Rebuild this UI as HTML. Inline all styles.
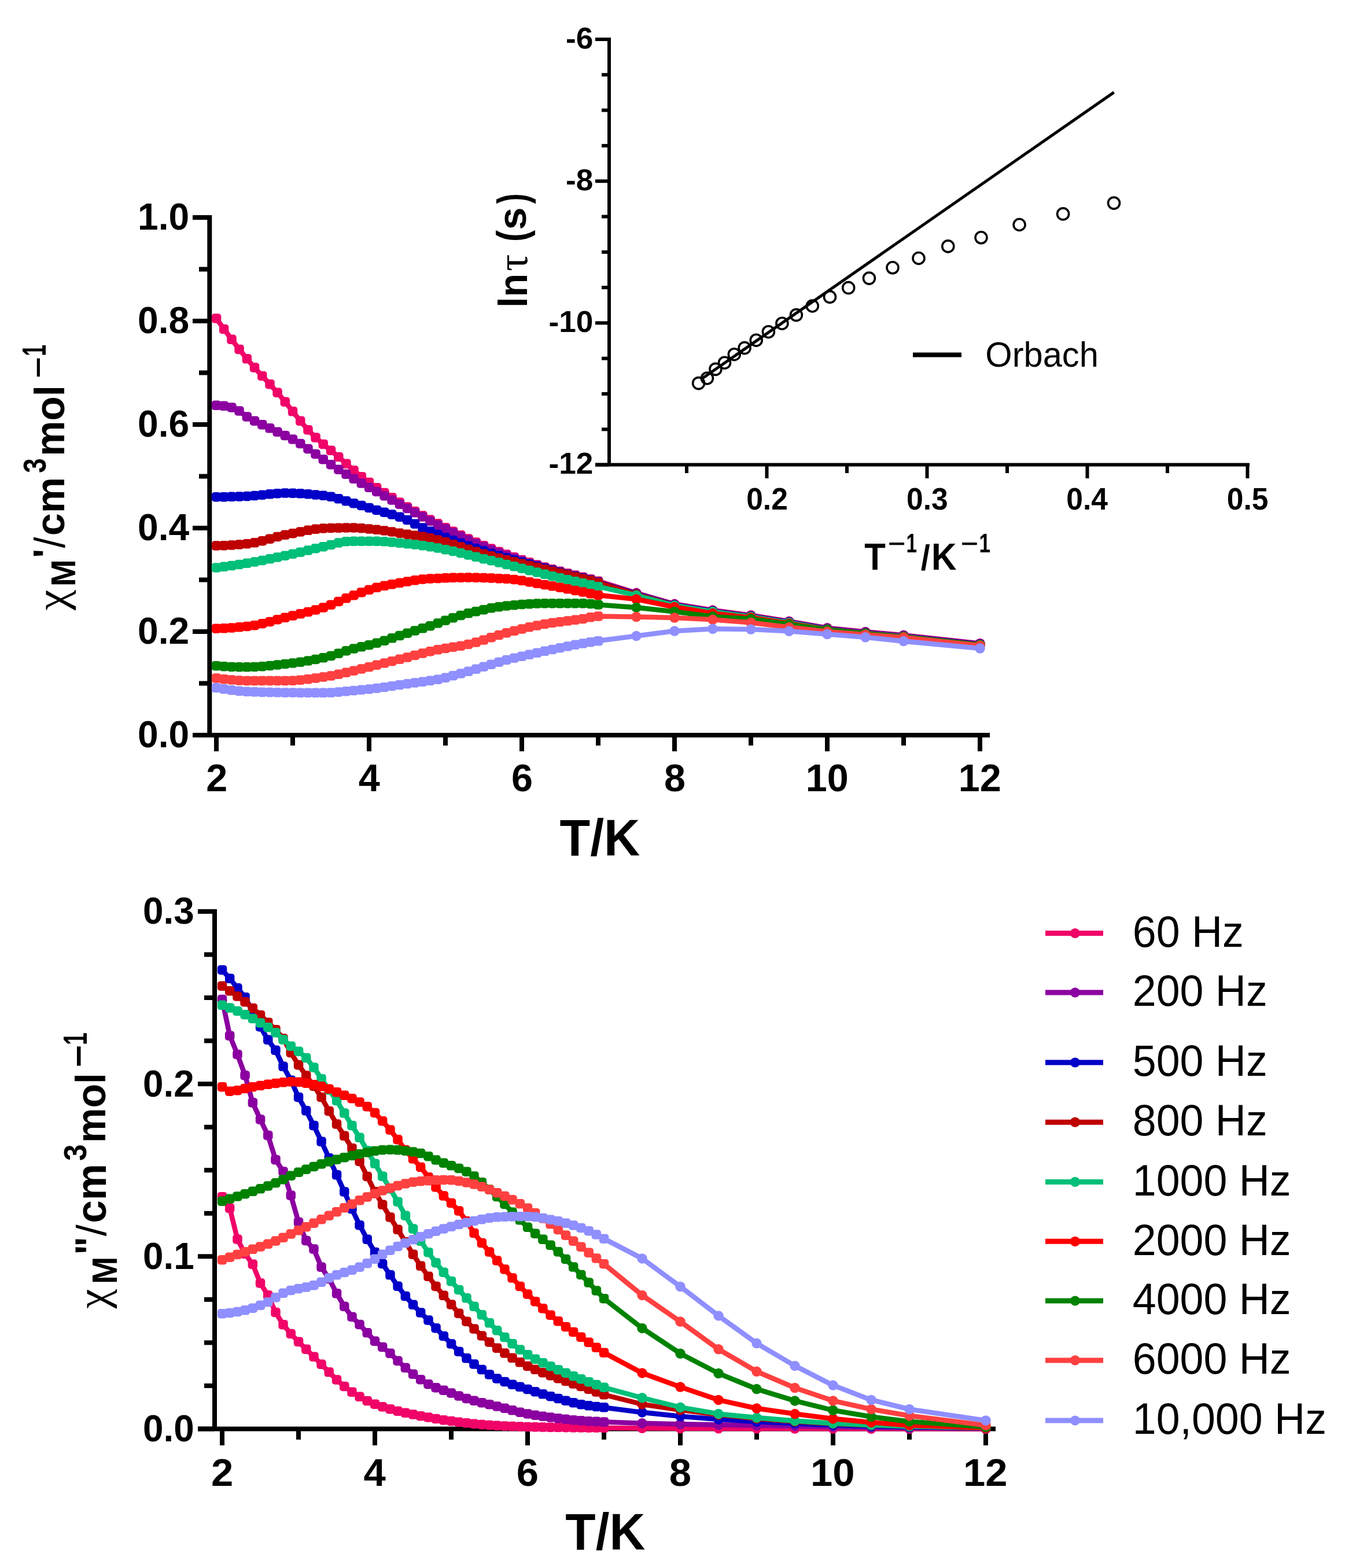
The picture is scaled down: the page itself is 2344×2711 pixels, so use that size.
<!DOCTYPE html><html><head><meta charset="utf-8"><title>AC susceptibility</title><style>html,body{margin:0;padding:0;background:#fff}svg{display:block}text{font-kerning:none}</style></head><body>
<svg width="2344" height="2711" viewBox="0 0 2344 2711">
<rect width="2344" height="2711" fill="#fff"/>
<path d="M362.3 372 V1271 M334 1271 H1711" stroke="#000" stroke-width="8" fill="none" stroke-linecap="butt"/>
<line x1="333" y1="1271.0" x2="362" y2="1271.0" stroke="#000" stroke-width="8" fill="none"/>
<line x1="344" y1="1181.5" x2="362" y2="1181.5" stroke="#000" stroke-width="8" fill="none"/>
<line x1="333" y1="1092.0" x2="362" y2="1092.0" stroke="#000" stroke-width="8" fill="none"/>
<line x1="344" y1="1002.5" x2="362" y2="1002.5" stroke="#000" stroke-width="8" fill="none"/>
<line x1="333" y1="913.0" x2="362" y2="913.0" stroke="#000" stroke-width="8" fill="none"/>
<line x1="344" y1="823.5" x2="362" y2="823.5" stroke="#000" stroke-width="8" fill="none"/>
<line x1="333" y1="734.0" x2="362" y2="734.0" stroke="#000" stroke-width="8" fill="none"/>
<line x1="344" y1="644.5" x2="362" y2="644.5" stroke="#000" stroke-width="8" fill="none"/>
<line x1="333" y1="555.0" x2="362" y2="555.0" stroke="#000" stroke-width="8" fill="none"/>
<line x1="344" y1="465.5" x2="362" y2="465.5" stroke="#000" stroke-width="8" fill="none"/>
<line x1="333" y1="376.0" x2="362" y2="376.0" stroke="#000" stroke-width="8" fill="none"/>
<line x1="374.0" y1="1271" x2="374.0" y2="1299" stroke="#000" stroke-width="8" fill="none"/>
<line x1="506.0" y1="1271" x2="506.0" y2="1289" stroke="#000" stroke-width="8" fill="none"/>
<line x1="638.0" y1="1271" x2="638.0" y2="1299" stroke="#000" stroke-width="8" fill="none"/>
<line x1="770.0" y1="1271" x2="770.0" y2="1289" stroke="#000" stroke-width="8" fill="none"/>
<line x1="902.0" y1="1271" x2="902.0" y2="1299" stroke="#000" stroke-width="8" fill="none"/>
<line x1="1034.0" y1="1271" x2="1034.0" y2="1289" stroke="#000" stroke-width="8" fill="none"/>
<line x1="1166.0" y1="1271" x2="1166.0" y2="1299" stroke="#000" stroke-width="8" fill="none"/>
<line x1="1298.0" y1="1271" x2="1298.0" y2="1289" stroke="#000" stroke-width="8" fill="none"/>
<line x1="1430.0" y1="1271" x2="1430.0" y2="1299" stroke="#000" stroke-width="8" fill="none"/>
<line x1="1562.0" y1="1271" x2="1562.0" y2="1289" stroke="#000" stroke-width="8" fill="none"/>
<line x1="1694.0" y1="1271" x2="1694.0" y2="1299" stroke="#000" stroke-width="8" fill="none"/>
<text transform="translate(237.96 1292.37) scale(0.9873 1)" x="0" y="0" font-family="'Liberation Sans', Arial, sans-serif" font-weight="bold" font-size="64.97">0.0</text>
<text transform="translate(237.96 1113.37) scale(0.9873 1)" x="0" y="0" font-family="'Liberation Sans', Arial, sans-serif" font-weight="bold" font-size="64.97">0.2</text>
<text transform="translate(237.96 934.37) scale(0.9873 1)" x="0" y="0" font-family="'Liberation Sans', Arial, sans-serif" font-weight="bold" font-size="64.97">0.4</text>
<text transform="translate(237.96 755.37) scale(0.9873 1)" x="0" y="0" font-family="'Liberation Sans', Arial, sans-serif" font-weight="bold" font-size="64.97">0.6</text>
<text transform="translate(237.96 576.37) scale(0.9873 1)" x="0" y="0" font-family="'Liberation Sans', Arial, sans-serif" font-weight="bold" font-size="64.97">0.8</text>
<text transform="translate(237.96 397.37) scale(0.9873 1)" x="0" y="0" font-family="'Liberation Sans', Arial, sans-serif" font-weight="bold" font-size="64.97">1.0</text>
<text transform="translate(356.20 1367.50) scale(1.0089 1)" x="0" y="0" font-family="'Liberation Sans', Arial, sans-serif" font-weight="bold" font-size="65.88">2</text>
<text transform="translate(619.69 1367.50) scale(1.0089 1)" x="0" y="0" font-family="'Liberation Sans', Arial, sans-serif" font-weight="bold" font-size="65.88">4</text>
<text transform="translate(884.00 1367.50) scale(1.0089 1)" x="0" y="0" font-family="'Liberation Sans', Arial, sans-serif" font-weight="bold" font-size="65.88">6</text>
<text transform="translate(1147.98 1367.50) scale(1.0089 1)" x="0" y="0" font-family="'Liberation Sans', Arial, sans-serif" font-weight="bold" font-size="65.88">8</text>
<text transform="translate(1392.80 1367.50) scale(1.0089 1)" x="0" y="0" font-family="'Liberation Sans', Arial, sans-serif" font-weight="bold" font-size="65.88">10</text>
<text transform="translate(1656.77 1367.50) scale(1.0089 1)" x="0" y="0" font-family="'Liberation Sans', Arial, sans-serif" font-weight="bold" font-size="65.88">12</text>
<text transform="translate(1037.00 1478.90) scale(1 1.0259)" x="-69.47" y="0" font-family="'Liberation Sans', Arial, sans-serif" font-weight="bold" font-size="86.15">T/K</text>
<path d="M371 1572 V2470.5 M342 2470.5 H1721" stroke="#000" stroke-width="8" fill="none"/>
<line x1="342" y1="2470.5" x2="371" y2="2470.5" stroke="#000" stroke-width="8" fill="none"/>
<line x1="353" y1="2395.9" x2="371" y2="2395.9" stroke="#000" stroke-width="8" fill="none"/>
<line x1="353" y1="2321.4" x2="371" y2="2321.4" stroke="#000" stroke-width="8" fill="none"/>
<line x1="353" y1="2246.8" x2="371" y2="2246.8" stroke="#000" stroke-width="8" fill="none"/>
<line x1="342" y1="2172.3" x2="371" y2="2172.3" stroke="#000" stroke-width="8" fill="none"/>
<line x1="353" y1="2097.8" x2="371" y2="2097.8" stroke="#000" stroke-width="8" fill="none"/>
<line x1="353" y1="2023.2" x2="371" y2="2023.2" stroke="#000" stroke-width="8" fill="none"/>
<line x1="353" y1="1948.7" x2="371" y2="1948.7" stroke="#000" stroke-width="8" fill="none"/>
<line x1="342" y1="1874.1" x2="371" y2="1874.1" stroke="#000" stroke-width="8" fill="none"/>
<line x1="353" y1="1799.5" x2="371" y2="1799.5" stroke="#000" stroke-width="8" fill="none"/>
<line x1="353" y1="1725.0" x2="371" y2="1725.0" stroke="#000" stroke-width="8" fill="none"/>
<line x1="353" y1="1650.4" x2="371" y2="1650.4" stroke="#000" stroke-width="8" fill="none"/>
<line x1="342" y1="1575.9" x2="371" y2="1575.9" stroke="#000" stroke-width="8" fill="none"/>
<line x1="384.0" y1="2470.5" x2="384.0" y2="2499" stroke="#000" stroke-width="8" fill="none"/>
<line x1="516.0" y1="2470.5" x2="516.0" y2="2489" stroke="#000" stroke-width="8" fill="none"/>
<line x1="648.0" y1="2470.5" x2="648.0" y2="2499" stroke="#000" stroke-width="8" fill="none"/>
<line x1="780.0" y1="2470.5" x2="780.0" y2="2489" stroke="#000" stroke-width="8" fill="none"/>
<line x1="912.0" y1="2470.5" x2="912.0" y2="2499" stroke="#000" stroke-width="8" fill="none"/>
<line x1="1044.0" y1="2470.5" x2="1044.0" y2="2489" stroke="#000" stroke-width="8" fill="none"/>
<line x1="1176.0" y1="2470.5" x2="1176.0" y2="2499" stroke="#000" stroke-width="8" fill="none"/>
<line x1="1308.0" y1="2470.5" x2="1308.0" y2="2489" stroke="#000" stroke-width="8" fill="none"/>
<line x1="1440.0" y1="2470.5" x2="1440.0" y2="2499" stroke="#000" stroke-width="8" fill="none"/>
<line x1="1572.0" y1="2470.5" x2="1572.0" y2="2489" stroke="#000" stroke-width="8" fill="none"/>
<line x1="1704.0" y1="2470.5" x2="1704.0" y2="2499" stroke="#000" stroke-width="8" fill="none"/>
<text transform="translate(247.08 2492.06) scale(0.9741 1)" x="0" y="0" font-family="'Liberation Sans', Arial, sans-serif" font-weight="bold" font-size="65.54">0.0</text>
<text transform="translate(247.08 2193.86) scale(0.9741 1)" x="0" y="0" font-family="'Liberation Sans', Arial, sans-serif" font-weight="bold" font-size="65.54">0.1</text>
<text transform="translate(247.08 1895.66) scale(0.9741 1)" x="0" y="0" font-family="'Liberation Sans', Arial, sans-serif" font-weight="bold" font-size="65.54">0.2</text>
<text transform="translate(247.08 1597.46) scale(0.9741 1)" x="0" y="0" font-family="'Liberation Sans', Arial, sans-serif" font-weight="bold" font-size="65.54">0.3</text>
<text transform="translate(365.07 2568.70) scale(1.0171 1)" x="0" y="0" font-family="'Liberation Sans', Arial, sans-serif" font-weight="bold" font-size="67.60">2</text>
<text transform="translate(628.55 2568.70) scale(1.0171 1)" x="0" y="0" font-family="'Liberation Sans', Arial, sans-serif" font-weight="bold" font-size="67.60">4</text>
<text transform="translate(892.87 2568.70) scale(1.0171 1)" x="0" y="0" font-family="'Liberation Sans', Arial, sans-serif" font-weight="bold" font-size="67.60">6</text>
<text transform="translate(1156.85 2568.70) scale(1.0171 1)" x="0" y="0" font-family="'Liberation Sans', Arial, sans-serif" font-weight="bold" font-size="67.60">8</text>
<text transform="translate(1401.01 2568.70) scale(1.0171 1)" x="0" y="0" font-family="'Liberation Sans', Arial, sans-serif" font-weight="bold" font-size="67.60">10</text>
<text transform="translate(1664.97 2568.70) scale(1.0171 1)" x="0" y="0" font-family="'Liberation Sans', Arial, sans-serif" font-weight="bold" font-size="67.60">12</text>
<text transform="translate(1046.40 2679.00) scale(1 1.0353)" x="-69.06" y="0" font-family="'Liberation Sans', Arial, sans-serif" font-weight="bold" font-size="85.64">T/K</text>
<path d="M374.0 550.5 L387.2 569.1 L400.4 586.9 L413.6 604.0 L426.8 620.3 L440.0 635.6 L453.2 650.0 L466.4 664.1 L479.6 678.8 L492.8 694.6 L506.0 711.3 L519.2 727.9 L532.4 743.2 L545.6 756.4 L558.8 768.0 L572.0 778.9 L585.2 790.0 L598.4 801.7 L611.6 813.3 L624.8 824.2 L638.0 834.0 L651.2 843.2 L664.4 852.0 L677.6 860.4 L690.8 868.5 L704.0 876.4 L717.2 884.1 L730.4 891.4 L743.6 898.5 L756.8 905.4 L770.0 912.1 L783.2 918.8 L796.4 925.2 L809.6 931.5 L822.8 937.5 L836.0 943.1 L849.2 948.5 L862.4 953.6 L875.6 958.6 L888.8 963.3 L902.0 967.9 L915.2 972.3 L928.4 976.5 L941.6 980.6 L954.8 984.4 L968.0 987.9 L981.2 991.2 L994.4 994.4 L1007.6 997.7 L1020.8 1001.1 L1034.0 1004.7 L1100.0 1025.3 L1166.0 1044.3 L1232.0 1055.1 L1298.0 1063.8 L1364.0 1074.3 L1430.0 1085.7 L1496.0 1092.4 L1562.0 1098.3 L1694.0 1112.5" fill="none" stroke="#F00468" stroke-width="8.6" stroke-linejoin="round"/>
<g fill="#F00468"><rect x="365.8" y="542.3" width="16.5" height="16.5" rx="5"/><rect x="378.9" y="560.8" width="16.5" height="16.5" rx="5"/><rect x="392.2" y="578.6" width="16.5" height="16.5" rx="5"/><rect x="405.3" y="595.8" width="16.5" height="16.5" rx="5"/><rect x="418.6" y="612.1" width="16.5" height="16.5" rx="5"/><rect x="431.8" y="627.3" width="16.5" height="16.5" rx="5"/><rect x="445.0" y="641.7" width="16.5" height="16.5" rx="5"/><rect x="458.2" y="655.9" width="16.5" height="16.5" rx="5"/><rect x="471.3" y="670.5" width="16.5" height="16.5" rx="5"/><rect x="484.5" y="686.4" width="16.5" height="16.5" rx="5"/><rect x="497.8" y="703.1" width="16.5" height="16.5" rx="5"/><rect x="511.0" y="719.6" width="16.5" height="16.5" rx="5"/><rect x="524.2" y="735.0" width="16.5" height="16.5" rx="5"/><rect x="537.3" y="748.2" width="16.5" height="16.5" rx="5"/><rect x="550.5" y="759.7" width="16.5" height="16.5" rx="5"/><rect x="563.8" y="770.6" width="16.5" height="16.5" rx="5"/><rect x="577.0" y="781.7" width="16.5" height="16.5" rx="5"/><rect x="590.2" y="793.4" width="16.5" height="16.5" rx="5"/><rect x="603.3" y="805.0" width="16.5" height="16.5" rx="5"/><rect x="616.5" y="815.9" width="16.5" height="16.5" rx="5"/><rect x="629.8" y="825.7" width="16.5" height="16.5" rx="5"/><rect x="642.9" y="835.0" width="16.5" height="16.5" rx="5"/><rect x="656.2" y="843.7" width="16.5" height="16.5" rx="5"/><rect x="669.3" y="852.1" width="16.5" height="16.5" rx="5"/><rect x="682.6" y="860.3" width="16.5" height="16.5" rx="5"/><rect x="695.8" y="868.2" width="16.5" height="16.5" rx="5"/><rect x="708.9" y="875.8" width="16.5" height="16.5" rx="5"/><rect x="722.2" y="883.2" width="16.5" height="16.5" rx="5"/><rect x="735.3" y="890.3" width="16.5" height="16.5" rx="5"/><rect x="748.6" y="897.1" width="16.5" height="16.5" rx="5"/><rect x="761.8" y="903.9" width="16.5" height="16.5" rx="5"/><rect x="774.9" y="910.5" width="16.5" height="16.5" rx="5"/><rect x="788.2" y="917.0" width="16.5" height="16.5" rx="5"/><rect x="801.3" y="923.3" width="16.5" height="16.5" rx="5"/><rect x="814.6" y="929.2" width="16.5" height="16.5" rx="5"/><rect x="827.8" y="934.9" width="16.5" height="16.5" rx="5"/><rect x="840.9" y="940.2" width="16.5" height="16.5" rx="5"/><rect x="854.2" y="945.4" width="16.5" height="16.5" rx="5"/><rect x="867.3" y="950.3" width="16.5" height="16.5" rx="5"/><rect x="880.6" y="955.1" width="16.5" height="16.5" rx="5"/><rect x="893.8" y="959.7" width="16.5" height="16.5" rx="5"/><rect x="906.9" y="964.1" width="16.5" height="16.5" rx="5"/><rect x="920.1" y="968.3" width="16.5" height="16.5" rx="5"/><rect x="933.4" y="972.3" width="16.5" height="16.5" rx="5"/><rect x="946.6" y="976.1" width="16.5" height="16.5" rx="5"/><rect x="959.8" y="979.6" width="16.5" height="16.5" rx="5"/><rect x="972.9" y="982.9" width="16.5" height="16.5" rx="5"/><rect x="986.1" y="986.2" width="16.5" height="16.5" rx="5"/><rect x="999.4" y="989.5" width="16.5" height="16.5" rx="5"/><rect x="1012.6" y="992.9" width="16.5" height="16.5" rx="5"/><rect x="1025.8" y="996.5" width="16.5" height="16.5" rx="5"/><circle cx="1100.0" cy="1025.3" r="8.75"/><circle cx="1166.0" cy="1044.3" r="8.75"/><circle cx="1232.0" cy="1055.1" r="8.75"/><circle cx="1298.0" cy="1063.8" r="8.75"/><circle cx="1364.0" cy="1074.3" r="8.75"/><circle cx="1430.0" cy="1085.7" r="8.75"/><circle cx="1496.0" cy="1092.4" r="8.75"/><circle cx="1562.0" cy="1098.3" r="8.75"/><circle cx="1694.0" cy="1112.5" r="8.75"/></g>
<path d="M374.0 700.9 L387.2 701.9 L400.4 704.4 L413.6 710.5 L426.8 720.6 L440.0 727.7 L453.2 734.1 L466.4 740.4 L479.6 746.8 L492.8 753.0 L506.0 759.5 L519.2 766.9 L532.4 775.9 L545.6 785.1 L558.8 794.2 L572.0 803.2 L585.2 811.7 L598.4 819.9 L611.6 827.8 L624.8 835.4 L638.0 842.9 L651.2 850.1 L664.4 857.2 L677.6 864.4 L690.8 871.7 L704.0 878.9 L717.2 886.2 L730.4 893.4 L743.6 900.7 L756.8 907.6 L770.0 914.3 L783.2 921.0 L796.4 927.5 L809.6 933.7 L822.8 939.7 L836.0 945.4 L849.2 950.7 L862.4 955.8 L875.6 960.6 L888.8 965.3 L902.0 969.8 L915.2 974.2 L928.4 978.4 L941.6 982.4 L954.8 986.1 L968.0 989.7 L981.2 993.0 L994.4 996.3 L1007.6 999.6 L1020.8 1003.0 L1034.0 1006.5 L1100.0 1026.2 L1166.0 1045.2 L1232.0 1056.0 L1298.0 1064.7 L1364.0 1075.2 L1430.0 1086.6 L1496.0 1093.3 L1562.0 1099.2 L1694.0 1113.4" fill="none" stroke="#8B00A0" stroke-width="8.6" stroke-linejoin="round"/>
<g fill="#8B00A0"><rect x="365.8" y="692.6" width="16.5" height="16.5" rx="5"/><rect x="378.9" y="693.6" width="16.5" height="16.5" rx="5"/><rect x="392.2" y="696.2" width="16.5" height="16.5" rx="5"/><rect x="405.3" y="702.2" width="16.5" height="16.5" rx="5"/><rect x="418.6" y="712.3" width="16.5" height="16.5" rx="5"/><rect x="431.8" y="719.5" width="16.5" height="16.5" rx="5"/><rect x="445.0" y="725.9" width="16.5" height="16.5" rx="5"/><rect x="458.2" y="732.1" width="16.5" height="16.5" rx="5"/><rect x="471.3" y="738.5" width="16.5" height="16.5" rx="5"/><rect x="484.5" y="744.8" width="16.5" height="16.5" rx="5"/><rect x="497.8" y="751.3" width="16.5" height="16.5" rx="5"/><rect x="511.0" y="758.7" width="16.5" height="16.5" rx="5"/><rect x="524.2" y="767.7" width="16.5" height="16.5" rx="5"/><rect x="537.3" y="776.8" width="16.5" height="16.5" rx="5"/><rect x="550.5" y="785.9" width="16.5" height="16.5" rx="5"/><rect x="563.8" y="794.9" width="16.5" height="16.5" rx="5"/><rect x="577.0" y="803.5" width="16.5" height="16.5" rx="5"/><rect x="590.2" y="811.6" width="16.5" height="16.5" rx="5"/><rect x="603.3" y="819.5" width="16.5" height="16.5" rx="5"/><rect x="616.5" y="827.2" width="16.5" height="16.5" rx="5"/><rect x="629.8" y="834.6" width="16.5" height="16.5" rx="5"/><rect x="642.9" y="841.8" width="16.5" height="16.5" rx="5"/><rect x="656.2" y="849.0" width="16.5" height="16.5" rx="5"/><rect x="669.3" y="856.2" width="16.5" height="16.5" rx="5"/><rect x="682.6" y="863.4" width="16.5" height="16.5" rx="5"/><rect x="695.8" y="870.7" width="16.5" height="16.5" rx="5"/><rect x="708.9" y="877.9" width="16.5" height="16.5" rx="5"/><rect x="722.2" y="885.2" width="16.5" height="16.5" rx="5"/><rect x="735.3" y="892.4" width="16.5" height="16.5" rx="5"/><rect x="748.6" y="899.4" width="16.5" height="16.5" rx="5"/><rect x="761.8" y="906.1" width="16.5" height="16.5" rx="5"/><rect x="774.9" y="912.7" width="16.5" height="16.5" rx="5"/><rect x="788.2" y="919.2" width="16.5" height="16.5" rx="5"/><rect x="801.3" y="925.5" width="16.5" height="16.5" rx="5"/><rect x="814.6" y="931.5" width="16.5" height="16.5" rx="5"/><rect x="827.8" y="937.1" width="16.5" height="16.5" rx="5"/><rect x="840.9" y="942.4" width="16.5" height="16.5" rx="5"/><rect x="854.2" y="947.5" width="16.5" height="16.5" rx="5"/><rect x="867.3" y="952.4" width="16.5" height="16.5" rx="5"/><rect x="880.6" y="957.1" width="16.5" height="16.5" rx="5"/><rect x="893.8" y="961.6" width="16.5" height="16.5" rx="5"/><rect x="906.9" y="965.9" width="16.5" height="16.5" rx="5"/><rect x="920.1" y="970.1" width="16.5" height="16.5" rx="5"/><rect x="933.4" y="974.1" width="16.5" height="16.5" rx="5"/><rect x="946.6" y="977.9" width="16.5" height="16.5" rx="5"/><rect x="959.8" y="981.4" width="16.5" height="16.5" rx="5"/><rect x="972.9" y="984.8" width="16.5" height="16.5" rx="5"/><rect x="986.1" y="988.0" width="16.5" height="16.5" rx="5"/><rect x="999.4" y="991.3" width="16.5" height="16.5" rx="5"/><rect x="1012.6" y="994.7" width="16.5" height="16.5" rx="5"/><rect x="1025.8" y="998.3" width="16.5" height="16.5" rx="5"/><circle cx="1100.0" cy="1026.2" r="8.75"/><circle cx="1166.0" cy="1045.2" r="8.75"/><circle cx="1232.0" cy="1056.0" r="8.75"/><circle cx="1298.0" cy="1064.7" r="8.75"/><circle cx="1364.0" cy="1075.2" r="8.75"/><circle cx="1430.0" cy="1086.6" r="8.75"/><circle cx="1496.0" cy="1093.3" r="8.75"/><circle cx="1562.0" cy="1099.2" r="8.75"/><circle cx="1694.0" cy="1113.4" r="8.75"/></g>
<path d="M374.0 859.3 L387.2 859.2 L400.4 858.9 L413.6 858.4 L426.8 858.0 L440.0 857.1 L453.2 855.8 L466.4 854.3 L479.6 853.1 L492.8 852.6 L506.0 852.8 L519.2 853.3 L532.4 854.2 L545.6 855.4 L558.8 856.8 L572.0 858.8 L585.2 862.3 L598.4 866.3 L611.6 870.1 L624.8 874.0 L638.0 878.1 L651.2 882.1 L664.4 885.8 L677.6 889.5 L690.8 893.7 L704.0 899.0 L717.2 905.7 L730.4 912.5 L743.6 918.5 L756.8 924.0 L770.0 929.2 L783.2 934.2 L796.4 939.1 L809.6 943.7 L822.8 948.2 L836.0 952.5 L849.2 956.7 L862.4 960.7 L875.6 964.5 L888.8 968.2 L902.0 971.7 L915.2 975.3 L928.4 978.8 L941.6 982.4 L954.8 985.9 L968.0 989.3 L981.2 992.6 L994.4 996.0 L1007.6 999.4 L1020.8 1002.9 L1034.0 1006.5 L1100.0 1026.7 L1166.0 1045.6 L1232.0 1056.5 L1298.0 1065.2 L1364.0 1075.6 L1430.0 1087.1 L1496.0 1093.8 L1562.0 1099.6 L1694.0 1113.8" fill="none" stroke="#0000C8" stroke-width="8.6" stroke-linejoin="round"/>
<g fill="#0000C8"><rect x="365.8" y="851.0" width="16.5" height="16.5" rx="5"/><rect x="378.9" y="850.9" width="16.5" height="16.5" rx="5"/><rect x="392.2" y="850.6" width="16.5" height="16.5" rx="5"/><rect x="405.3" y="850.2" width="16.5" height="16.5" rx="5"/><rect x="418.6" y="849.7" width="16.5" height="16.5" rx="5"/><rect x="431.8" y="848.8" width="16.5" height="16.5" rx="5"/><rect x="445.0" y="847.5" width="16.5" height="16.5" rx="5"/><rect x="458.2" y="846.1" width="16.5" height="16.5" rx="5"/><rect x="471.3" y="844.9" width="16.5" height="16.5" rx="5"/><rect x="484.5" y="844.3" width="16.5" height="16.5" rx="5"/><rect x="497.8" y="844.5" width="16.5" height="16.5" rx="5"/><rect x="511.0" y="845.1" width="16.5" height="16.5" rx="5"/><rect x="524.2" y="846.0" width="16.5" height="16.5" rx="5"/><rect x="537.3" y="847.2" width="16.5" height="16.5" rx="5"/><rect x="550.5" y="848.5" width="16.5" height="16.5" rx="5"/><rect x="563.8" y="850.6" width="16.5" height="16.5" rx="5"/><rect x="577.0" y="854.1" width="16.5" height="16.5" rx="5"/><rect x="590.2" y="858.1" width="16.5" height="16.5" rx="5"/><rect x="603.3" y="861.9" width="16.5" height="16.5" rx="5"/><rect x="616.5" y="865.8" width="16.5" height="16.5" rx="5"/><rect x="629.8" y="869.8" width="16.5" height="16.5" rx="5"/><rect x="642.9" y="873.8" width="16.5" height="16.5" rx="5"/><rect x="656.2" y="877.5" width="16.5" height="16.5" rx="5"/><rect x="669.3" y="881.3" width="16.5" height="16.5" rx="5"/><rect x="682.6" y="885.4" width="16.5" height="16.5" rx="5"/><rect x="695.8" y="890.7" width="16.5" height="16.5" rx="5"/><rect x="708.9" y="897.4" width="16.5" height="16.5" rx="5"/><rect x="722.2" y="904.3" width="16.5" height="16.5" rx="5"/><rect x="735.3" y="910.3" width="16.5" height="16.5" rx="5"/><rect x="748.6" y="915.7" width="16.5" height="16.5" rx="5"/><rect x="761.8" y="921.0" width="16.5" height="16.5" rx="5"/><rect x="774.9" y="926.0" width="16.5" height="16.5" rx="5"/><rect x="788.2" y="930.8" width="16.5" height="16.5" rx="5"/><rect x="801.3" y="935.5" width="16.5" height="16.5" rx="5"/><rect x="814.6" y="940.0" width="16.5" height="16.5" rx="5"/><rect x="827.8" y="944.3" width="16.5" height="16.5" rx="5"/><rect x="840.9" y="948.5" width="16.5" height="16.5" rx="5"/><rect x="854.2" y="952.4" width="16.5" height="16.5" rx="5"/><rect x="867.3" y="956.2" width="16.5" height="16.5" rx="5"/><rect x="880.6" y="959.9" width="16.5" height="16.5" rx="5"/><rect x="893.8" y="963.5" width="16.5" height="16.5" rx="5"/><rect x="906.9" y="967.0" width="16.5" height="16.5" rx="5"/><rect x="920.1" y="970.6" width="16.5" height="16.5" rx="5"/><rect x="933.4" y="974.1" width="16.5" height="16.5" rx="5"/><rect x="946.6" y="977.6" width="16.5" height="16.5" rx="5"/><rect x="959.8" y="981.0" width="16.5" height="16.5" rx="5"/><rect x="972.9" y="984.4" width="16.5" height="16.5" rx="5"/><rect x="986.1" y="987.7" width="16.5" height="16.5" rx="5"/><rect x="999.4" y="991.1" width="16.5" height="16.5" rx="5"/><rect x="1012.6" y="994.6" width="16.5" height="16.5" rx="5"/><rect x="1025.8" y="998.3" width="16.5" height="16.5" rx="5"/><circle cx="1100.0" cy="1026.7" r="8.75"/><circle cx="1166.0" cy="1045.6" r="8.75"/><circle cx="1232.0" cy="1056.5" r="8.75"/><circle cx="1298.0" cy="1065.2" r="8.75"/><circle cx="1364.0" cy="1075.6" r="8.75"/><circle cx="1430.0" cy="1087.1" r="8.75"/><circle cx="1496.0" cy="1093.8" r="8.75"/><circle cx="1562.0" cy="1099.6" r="8.75"/><circle cx="1694.0" cy="1113.8" r="8.75"/></g>
<path d="M374.0 943.4 L387.2 943.2 L400.4 942.5 L413.6 941.5 L426.8 940.3 L440.0 938.3 L453.2 935.3 L466.4 931.7 L479.6 928.0 L492.8 924.9 L506.0 922.2 L519.2 919.5 L532.4 916.9 L545.6 914.8 L558.8 913.6 L572.0 913.0 L585.2 912.6 L598.4 912.4 L611.6 912.5 L624.8 913.3 L638.0 914.5 L651.2 915.8 L664.4 917.5 L677.6 919.6 L690.8 921.8 L704.0 923.8 L717.2 925.7 L730.4 927.8 L743.6 930.3 L756.8 933.4 L770.0 937.1 L783.2 941.1 L796.4 945.4 L809.6 949.7 L822.8 953.8 L836.0 957.7 L849.2 961.3 L862.4 964.7 L875.6 968.0 L888.8 971.2 L902.0 974.5 L915.2 977.7 L928.4 980.9 L941.6 984.2 L954.8 987.4 L968.0 990.6 L981.2 993.9 L994.4 997.1 L1007.6 1000.4 L1020.8 1003.8 L1034.0 1007.4 L1100.0 1027.6 L1166.0 1046.5 L1232.0 1057.4 L1298.0 1066.0 L1364.0 1076.5 L1430.0 1088.0 L1496.0 1094.7 L1562.0 1100.5 L1694.0 1114.7" fill="none" stroke="#BE0000" stroke-width="8.6" stroke-linejoin="round"/>
<g fill="#BE0000"><rect x="365.8" y="935.2" width="16.5" height="16.5" rx="5"/><rect x="378.9" y="934.9" width="16.5" height="16.5" rx="5"/><rect x="392.2" y="934.2" width="16.5" height="16.5" rx="5"/><rect x="405.3" y="933.2" width="16.5" height="16.5" rx="5"/><rect x="418.6" y="932.0" width="16.5" height="16.5" rx="5"/><rect x="431.8" y="930.1" width="16.5" height="16.5" rx="5"/><rect x="445.0" y="927.0" width="16.5" height="16.5" rx="5"/><rect x="458.2" y="923.4" width="16.5" height="16.5" rx="5"/><rect x="471.3" y="919.8" width="16.5" height="16.5" rx="5"/><rect x="484.5" y="916.6" width="16.5" height="16.5" rx="5"/><rect x="497.8" y="914.0" width="16.5" height="16.5" rx="5"/><rect x="511.0" y="911.2" width="16.5" height="16.5" rx="5"/><rect x="524.2" y="908.6" width="16.5" height="16.5" rx="5"/><rect x="537.3" y="906.6" width="16.5" height="16.5" rx="5"/><rect x="550.5" y="905.3" width="16.5" height="16.5" rx="5"/><rect x="563.8" y="904.8" width="16.5" height="16.5" rx="5"/><rect x="577.0" y="904.4" width="16.5" height="16.5" rx="5"/><rect x="590.2" y="904.2" width="16.5" height="16.5" rx="5"/><rect x="603.3" y="904.2" width="16.5" height="16.5" rx="5"/><rect x="616.5" y="905.0" width="16.5" height="16.5" rx="5"/><rect x="629.8" y="906.2" width="16.5" height="16.5" rx="5"/><rect x="642.9" y="907.6" width="16.5" height="16.5" rx="5"/><rect x="656.2" y="909.3" width="16.5" height="16.5" rx="5"/><rect x="669.3" y="911.3" width="16.5" height="16.5" rx="5"/><rect x="682.6" y="913.5" width="16.5" height="16.5" rx="5"/><rect x="695.8" y="915.5" width="16.5" height="16.5" rx="5"/><rect x="708.9" y="917.4" width="16.5" height="16.5" rx="5"/><rect x="722.2" y="919.5" width="16.5" height="16.5" rx="5"/><rect x="735.3" y="922.0" width="16.5" height="16.5" rx="5"/><rect x="748.6" y="925.2" width="16.5" height="16.5" rx="5"/><rect x="761.8" y="928.8" width="16.5" height="16.5" rx="5"/><rect x="774.9" y="932.9" width="16.5" height="16.5" rx="5"/><rect x="788.2" y="937.1" width="16.5" height="16.5" rx="5"/><rect x="801.3" y="941.4" width="16.5" height="16.5" rx="5"/><rect x="814.6" y="945.6" width="16.5" height="16.5" rx="5"/><rect x="827.8" y="949.5" width="16.5" height="16.5" rx="5"/><rect x="840.9" y="953.0" width="16.5" height="16.5" rx="5"/><rect x="854.2" y="956.4" width="16.5" height="16.5" rx="5"/><rect x="867.3" y="959.7" width="16.5" height="16.5" rx="5"/><rect x="880.6" y="963.0" width="16.5" height="16.5" rx="5"/><rect x="893.8" y="966.2" width="16.5" height="16.5" rx="5"/><rect x="906.9" y="969.4" width="16.5" height="16.5" rx="5"/><rect x="920.1" y="972.6" width="16.5" height="16.5" rx="5"/><rect x="933.4" y="975.9" width="16.5" height="16.5" rx="5"/><rect x="946.6" y="979.2" width="16.5" height="16.5" rx="5"/><rect x="959.8" y="982.4" width="16.5" height="16.5" rx="5"/><rect x="972.9" y="985.6" width="16.5" height="16.5" rx="5"/><rect x="986.1" y="988.9" width="16.5" height="16.5" rx="5"/><rect x="999.4" y="992.2" width="16.5" height="16.5" rx="5"/><rect x="1012.6" y="995.6" width="16.5" height="16.5" rx="5"/><rect x="1025.8" y="999.2" width="16.5" height="16.5" rx="5"/><circle cx="1100.0" cy="1027.6" r="8.75"/><circle cx="1166.0" cy="1046.5" r="8.75"/><circle cx="1232.0" cy="1057.4" r="8.75"/><circle cx="1298.0" cy="1066.0" r="8.75"/><circle cx="1364.0" cy="1076.5" r="8.75"/><circle cx="1430.0" cy="1088.0" r="8.75"/><circle cx="1496.0" cy="1094.7" r="8.75"/><circle cx="1562.0" cy="1100.5" r="8.75"/><circle cx="1694.0" cy="1114.7" r="8.75"/></g>
<path d="M374.0 981.6 L387.2 979.9 L400.4 978.0 L413.6 976.0 L426.8 973.9 L440.0 971.5 L453.2 969.0 L466.4 966.3 L479.6 963.6 L492.8 960.7 L506.0 957.8 L519.2 954.6 L532.4 951.4 L545.6 948.3 L558.8 945.3 L572.0 942.1 L585.2 938.6 L598.4 936.2 L611.6 935.8 L624.8 935.8 L638.0 935.8 L651.2 935.8 L664.4 936.4 L677.6 937.5 L690.8 938.8 L704.0 940.1 L717.2 941.5 L730.4 943.2 L743.6 945.1 L756.8 947.4 L770.0 950.1 L783.2 953.1 L796.4 956.3 L809.6 959.6 L822.8 962.9 L836.0 966.1 L849.2 969.3 L862.4 972.6 L875.6 975.9 L888.8 979.3 L902.0 982.7 L915.2 986.2 L928.4 989.6 L941.6 992.9 L954.8 996.1 L968.0 999.3 L981.2 1002.3 L994.4 1005.3 L1007.6 1008.2 L1020.8 1011.1 L1034.0 1014.1 L1100.0 1029.3 L1166.0 1046.8 L1232.0 1057.5 L1298.0 1066.2 L1364.0 1076.5 L1430.0 1088.0 L1496.0 1094.7 L1562.0 1100.5 L1694.0 1114.7" fill="none" stroke="#00BF78" stroke-width="8.6" stroke-linejoin="round"/>
<g fill="#00BF78"><rect x="365.8" y="973.3" width="16.5" height="16.5" rx="5"/><rect x="378.9" y="971.6" width="16.5" height="16.5" rx="5"/><rect x="392.2" y="969.8" width="16.5" height="16.5" rx="5"/><rect x="405.3" y="967.8" width="16.5" height="16.5" rx="5"/><rect x="418.6" y="965.6" width="16.5" height="16.5" rx="5"/><rect x="431.8" y="963.3" width="16.5" height="16.5" rx="5"/><rect x="445.0" y="960.8" width="16.5" height="16.5" rx="5"/><rect x="458.2" y="958.1" width="16.5" height="16.5" rx="5"/><rect x="471.3" y="955.3" width="16.5" height="16.5" rx="5"/><rect x="484.5" y="952.5" width="16.5" height="16.5" rx="5"/><rect x="497.8" y="949.5" width="16.5" height="16.5" rx="5"/><rect x="511.0" y="946.4" width="16.5" height="16.5" rx="5"/><rect x="524.2" y="943.2" width="16.5" height="16.5" rx="5"/><rect x="537.3" y="940.0" width="16.5" height="16.5" rx="5"/><rect x="550.5" y="937.0" width="16.5" height="16.5" rx="5"/><rect x="563.8" y="933.8" width="16.5" height="16.5" rx="5"/><rect x="577.0" y="930.3" width="16.5" height="16.5" rx="5"/><rect x="590.2" y="927.9" width="16.5" height="16.5" rx="5"/><rect x="603.3" y="927.6" width="16.5" height="16.5" rx="5"/><rect x="616.5" y="927.6" width="16.5" height="16.5" rx="5"/><rect x="629.8" y="927.6" width="16.5" height="16.5" rx="5"/><rect x="642.9" y="927.6" width="16.5" height="16.5" rx="5"/><rect x="656.2" y="928.1" width="16.5" height="16.5" rx="5"/><rect x="669.3" y="929.3" width="16.5" height="16.5" rx="5"/><rect x="682.6" y="930.6" width="16.5" height="16.5" rx="5"/><rect x="695.8" y="931.9" width="16.5" height="16.5" rx="5"/><rect x="708.9" y="933.3" width="16.5" height="16.5" rx="5"/><rect x="722.2" y="934.9" width="16.5" height="16.5" rx="5"/><rect x="735.3" y="936.9" width="16.5" height="16.5" rx="5"/><rect x="748.6" y="939.2" width="16.5" height="16.5" rx="5"/><rect x="761.8" y="941.9" width="16.5" height="16.5" rx="5"/><rect x="774.9" y="944.8" width="16.5" height="16.5" rx="5"/><rect x="788.2" y="948.0" width="16.5" height="16.5" rx="5"/><rect x="801.3" y="951.3" width="16.5" height="16.5" rx="5"/><rect x="814.6" y="954.6" width="16.5" height="16.5" rx="5"/><rect x="827.8" y="957.9" width="16.5" height="16.5" rx="5"/><rect x="840.9" y="961.0" width="16.5" height="16.5" rx="5"/><rect x="854.2" y="964.3" width="16.5" height="16.5" rx="5"/><rect x="867.3" y="967.7" width="16.5" height="16.5" rx="5"/><rect x="880.6" y="971.1" width="16.5" height="16.5" rx="5"/><rect x="893.8" y="974.5" width="16.5" height="16.5" rx="5"/><rect x="906.9" y="977.9" width="16.5" height="16.5" rx="5"/><rect x="920.1" y="981.3" width="16.5" height="16.5" rx="5"/><rect x="933.4" y="984.6" width="16.5" height="16.5" rx="5"/><rect x="946.6" y="987.9" width="16.5" height="16.5" rx="5"/><rect x="959.8" y="991.0" width="16.5" height="16.5" rx="5"/><rect x="972.9" y="994.0" width="16.5" height="16.5" rx="5"/><rect x="986.1" y="997.0" width="16.5" height="16.5" rx="5"/><rect x="999.4" y="1000.0" width="16.5" height="16.5" rx="5"/><rect x="1012.6" y="1002.9" width="16.5" height="16.5" rx="5"/><rect x="1025.8" y="1005.9" width="16.5" height="16.5" rx="5"/><circle cx="1100.0" cy="1029.3" r="8.75"/><circle cx="1166.0" cy="1046.8" r="8.75"/><circle cx="1232.0" cy="1057.5" r="8.75"/><circle cx="1298.0" cy="1066.2" r="8.75"/><circle cx="1364.0" cy="1076.5" r="8.75"/><circle cx="1430.0" cy="1088.0" r="8.75"/><circle cx="1496.0" cy="1094.7" r="8.75"/><circle cx="1562.0" cy="1100.5" r="8.75"/><circle cx="1694.0" cy="1114.7" r="8.75"/></g>
<path d="M374.0 1086.6 L387.2 1086.3 L400.4 1085.5 L413.6 1084.4 L426.8 1083.0 L440.0 1081.1 L453.2 1078.3 L466.4 1074.9 L479.6 1071.3 L492.8 1067.8 L506.0 1064.6 L519.2 1061.4 L532.4 1058.0 L545.6 1054.4 L558.8 1050.4 L572.0 1045.7 L585.2 1040.1 L598.4 1034.4 L611.6 1029.3 L624.8 1024.3 L638.0 1019.7 L651.2 1015.9 L664.4 1012.8 L677.6 1010.2 L690.8 1007.8 L704.0 1005.6 L717.2 1003.4 L730.4 1001.6 L743.6 1000.6 L756.8 999.9 L770.0 999.3 L783.2 998.9 L796.4 998.6 L809.6 998.6 L822.8 998.7 L836.0 999.0 L849.2 999.5 L862.4 1000.1 L875.6 1000.8 L888.8 1002.0 L902.0 1003.9 L915.2 1006.2 L928.4 1008.6 L941.6 1011.0 L954.8 1013.3 L968.0 1015.8 L981.2 1018.3 L994.4 1020.9 L1007.6 1023.5 L1020.8 1026.4 L1034.0 1028.9 L1100.0 1036.0 L1166.0 1049.5 L1232.0 1060.5 L1298.0 1067.8 L1364.0 1078.1 L1430.0 1088.4 L1496.0 1095.1 L1562.0 1101.0 L1694.0 1114.9" fill="none" stroke="#FF0000" stroke-width="8.6" stroke-linejoin="round"/>
<g fill="#FF0000"><rect x="365.8" y="1078.4" width="16.5" height="16.5" rx="5"/><rect x="378.9" y="1078.1" width="16.5" height="16.5" rx="5"/><rect x="392.2" y="1077.3" width="16.5" height="16.5" rx="5"/><rect x="405.3" y="1076.1" width="16.5" height="16.5" rx="5"/><rect x="418.6" y="1074.8" width="16.5" height="16.5" rx="5"/><rect x="431.8" y="1072.9" width="16.5" height="16.5" rx="5"/><rect x="445.0" y="1070.0" width="16.5" height="16.5" rx="5"/><rect x="458.2" y="1066.7" width="16.5" height="16.5" rx="5"/><rect x="471.3" y="1063.0" width="16.5" height="16.5" rx="5"/><rect x="484.5" y="1059.6" width="16.5" height="16.5" rx="5"/><rect x="497.8" y="1056.3" width="16.5" height="16.5" rx="5"/><rect x="511.0" y="1053.1" width="16.5" height="16.5" rx="5"/><rect x="524.2" y="1049.8" width="16.5" height="16.5" rx="5"/><rect x="537.3" y="1046.2" width="16.5" height="16.5" rx="5"/><rect x="550.5" y="1042.2" width="16.5" height="16.5" rx="5"/><rect x="563.8" y="1037.4" width="16.5" height="16.5" rx="5"/><rect x="577.0" y="1031.8" width="16.5" height="16.5" rx="5"/><rect x="590.2" y="1026.1" width="16.5" height="16.5" rx="5"/><rect x="603.3" y="1021.0" width="16.5" height="16.5" rx="5"/><rect x="616.5" y="1016.0" width="16.5" height="16.5" rx="5"/><rect x="629.8" y="1011.4" width="16.5" height="16.5" rx="5"/><rect x="642.9" y="1007.6" width="16.5" height="16.5" rx="5"/><rect x="656.2" y="1004.6" width="16.5" height="16.5" rx="5"/><rect x="669.3" y="1001.9" width="16.5" height="16.5" rx="5"/><rect x="682.6" y="999.6" width="16.5" height="16.5" rx="5"/><rect x="695.8" y="997.3" width="16.5" height="16.5" rx="5"/><rect x="708.9" y="995.1" width="16.5" height="16.5" rx="5"/><rect x="722.2" y="993.3" width="16.5" height="16.5" rx="5"/><rect x="735.3" y="992.3" width="16.5" height="16.5" rx="5"/><rect x="748.6" y="991.7" width="16.5" height="16.5" rx="5"/><rect x="761.8" y="991.1" width="16.5" height="16.5" rx="5"/><rect x="774.9" y="990.6" width="16.5" height="16.5" rx="5"/><rect x="788.2" y="990.4" width="16.5" height="16.5" rx="5"/><rect x="801.3" y="990.3" width="16.5" height="16.5" rx="5"/><rect x="814.6" y="990.5" width="16.5" height="16.5" rx="5"/><rect x="827.8" y="990.8" width="16.5" height="16.5" rx="5"/><rect x="840.9" y="991.3" width="16.5" height="16.5" rx="5"/><rect x="854.2" y="991.9" width="16.5" height="16.5" rx="5"/><rect x="867.3" y="992.5" width="16.5" height="16.5" rx="5"/><rect x="880.6" y="993.7" width="16.5" height="16.5" rx="5"/><rect x="893.8" y="995.6" width="16.5" height="16.5" rx="5"/><rect x="906.9" y="997.9" width="16.5" height="16.5" rx="5"/><rect x="920.1" y="1000.4" width="16.5" height="16.5" rx="5"/><rect x="933.4" y="1002.8" width="16.5" height="16.5" rx="5"/><rect x="946.6" y="1005.1" width="16.5" height="16.5" rx="5"/><rect x="959.8" y="1007.5" width="16.5" height="16.5" rx="5"/><rect x="972.9" y="1010.1" width="16.5" height="16.5" rx="5"/><rect x="986.1" y="1012.7" width="16.5" height="16.5" rx="5"/><rect x="999.4" y="1015.3" width="16.5" height="16.5" rx="5"/><rect x="1012.6" y="1018.1" width="16.5" height="16.5" rx="5"/><rect x="1025.8" y="1020.7" width="16.5" height="16.5" rx="5"/><circle cx="1100.0" cy="1036.0" r="8.75"/><circle cx="1166.0" cy="1049.5" r="8.75"/><circle cx="1232.0" cy="1060.5" r="8.75"/><circle cx="1298.0" cy="1067.8" r="8.75"/><circle cx="1364.0" cy="1078.1" r="8.75"/><circle cx="1430.0" cy="1088.4" r="8.75"/><circle cx="1496.0" cy="1095.1" r="8.75"/><circle cx="1562.0" cy="1101.0" r="8.75"/><circle cx="1694.0" cy="1114.9" r="8.75"/></g>
<path d="M374.0 1151.2 L387.2 1152.2 L400.4 1152.9 L413.6 1153.3 L426.8 1153.4 L440.0 1153.1 L453.2 1152.2 L466.4 1151.0 L479.6 1149.6 L492.8 1148.1 L506.0 1146.5 L519.2 1144.7 L532.4 1142.5 L545.6 1140.0 L558.8 1137.3 L572.0 1134.0 L585.2 1129.7 L598.4 1125.3 L611.6 1121.6 L624.8 1118.4 L638.0 1115.2 L651.2 1111.8 L664.4 1107.7 L677.6 1103.3 L690.8 1098.9 L704.0 1094.7 L717.2 1090.5 L730.4 1086.4 L743.6 1082.1 L756.8 1077.5 L770.0 1072.8 L783.2 1068.1 L796.4 1063.9 L809.6 1060.4 L822.8 1057.1 L836.0 1054.1 L849.2 1051.4 L862.4 1049.2 L875.6 1047.6 L888.8 1046.3 L902.0 1045.1 L915.2 1044.1 L928.4 1043.5 L941.6 1043.2 L954.8 1043.2 L968.0 1043.2 L981.2 1043.2 L994.4 1043.2 L1007.6 1043.2 L1020.8 1044.1 L1034.0 1045.5 L1100.0 1050.4 L1166.0 1057.5 L1232.0 1066.0 L1298.0 1070.1 L1364.0 1079.5 L1430.0 1088.9 L1496.0 1095.6 L1562.0 1101.4 L1694.0 1115.1" fill="none" stroke="#008200" stroke-width="8.6" stroke-linejoin="round"/>
<g fill="#008200"><rect x="365.8" y="1142.9" width="16.5" height="16.5" rx="5"/><rect x="378.9" y="1144.0" width="16.5" height="16.5" rx="5"/><rect x="392.2" y="1144.7" width="16.5" height="16.5" rx="5"/><rect x="405.3" y="1145.0" width="16.5" height="16.5" rx="5"/><rect x="418.6" y="1145.1" width="16.5" height="16.5" rx="5"/><rect x="431.8" y="1144.8" width="16.5" height="16.5" rx="5"/><rect x="445.0" y="1144.0" width="16.5" height="16.5" rx="5"/><rect x="458.2" y="1142.7" width="16.5" height="16.5" rx="5"/><rect x="471.3" y="1141.3" width="16.5" height="16.5" rx="5"/><rect x="484.5" y="1139.8" width="16.5" height="16.5" rx="5"/><rect x="497.8" y="1138.3" width="16.5" height="16.5" rx="5"/><rect x="511.0" y="1136.4" width="16.5" height="16.5" rx="5"/><rect x="524.2" y="1134.2" width="16.5" height="16.5" rx="5"/><rect x="537.3" y="1131.8" width="16.5" height="16.5" rx="5"/><rect x="550.5" y="1129.1" width="16.5" height="16.5" rx="5"/><rect x="563.8" y="1125.7" width="16.5" height="16.5" rx="5"/><rect x="577.0" y="1121.4" width="16.5" height="16.5" rx="5"/><rect x="590.2" y="1117.0" width="16.5" height="16.5" rx="5"/><rect x="603.3" y="1113.3" width="16.5" height="16.5" rx="5"/><rect x="616.5" y="1110.1" width="16.5" height="16.5" rx="5"/><rect x="629.8" y="1107.0" width="16.5" height="16.5" rx="5"/><rect x="642.9" y="1103.5" width="16.5" height="16.5" rx="5"/><rect x="656.2" y="1099.5" width="16.5" height="16.5" rx="5"/><rect x="669.3" y="1095.1" width="16.5" height="16.5" rx="5"/><rect x="682.6" y="1090.7" width="16.5" height="16.5" rx="5"/><rect x="695.8" y="1086.5" width="16.5" height="16.5" rx="5"/><rect x="708.9" y="1082.3" width="16.5" height="16.5" rx="5"/><rect x="722.2" y="1078.1" width="16.5" height="16.5" rx="5"/><rect x="735.3" y="1073.9" width="16.5" height="16.5" rx="5"/><rect x="748.6" y="1069.3" width="16.5" height="16.5" rx="5"/><rect x="761.8" y="1064.5" width="16.5" height="16.5" rx="5"/><rect x="774.9" y="1059.9" width="16.5" height="16.5" rx="5"/><rect x="788.2" y="1055.7" width="16.5" height="16.5" rx="5"/><rect x="801.3" y="1052.1" width="16.5" height="16.5" rx="5"/><rect x="814.6" y="1048.9" width="16.5" height="16.5" rx="5"/><rect x="827.8" y="1045.9" width="16.5" height="16.5" rx="5"/><rect x="840.9" y="1043.1" width="16.5" height="16.5" rx="5"/><rect x="854.2" y="1040.9" width="16.5" height="16.5" rx="5"/><rect x="867.3" y="1039.3" width="16.5" height="16.5" rx="5"/><rect x="880.6" y="1038.0" width="16.5" height="16.5" rx="5"/><rect x="893.8" y="1036.8" width="16.5" height="16.5" rx="5"/><rect x="906.9" y="1035.9" width="16.5" height="16.5" rx="5"/><rect x="920.1" y="1035.2" width="16.5" height="16.5" rx="5"/><rect x="933.4" y="1035.0" width="16.5" height="16.5" rx="5"/><rect x="946.6" y="1035.0" width="16.5" height="16.5" rx="5"/><rect x="959.8" y="1035.0" width="16.5" height="16.5" rx="5"/><rect x="972.9" y="1035.0" width="16.5" height="16.5" rx="5"/><rect x="986.1" y="1035.0" width="16.5" height="16.5" rx="5"/><rect x="999.4" y="1035.0" width="16.5" height="16.5" rx="5"/><rect x="1012.6" y="1035.8" width="16.5" height="16.5" rx="5"/><rect x="1025.8" y="1037.2" width="16.5" height="16.5" rx="5"/><circle cx="1100.0" cy="1050.4" r="8.75"/><circle cx="1166.0" cy="1057.5" r="8.75"/><circle cx="1232.0" cy="1066.0" r="8.75"/><circle cx="1298.0" cy="1070.1" r="8.75"/><circle cx="1364.0" cy="1079.5" r="8.75"/><circle cx="1430.0" cy="1088.9" r="8.75"/><circle cx="1496.0" cy="1095.6" r="8.75"/><circle cx="1562.0" cy="1101.4" r="8.75"/><circle cx="1694.0" cy="1115.1" r="8.75"/></g>
<path d="M374.0 1172.5 L387.2 1174.1 L400.4 1175.5 L413.6 1176.5 L426.8 1176.9 L440.0 1176.9 L453.2 1176.9 L466.4 1176.9 L479.6 1176.9 L492.8 1176.9 L506.0 1176.6 L519.2 1175.6 L532.4 1174.2 L545.6 1172.4 L558.8 1170.6 L572.0 1168.5 L585.2 1165.8 L598.4 1162.8 L611.6 1159.7 L624.8 1156.5 L638.0 1153.1 L651.2 1149.8 L664.4 1146.5 L677.6 1143.2 L690.8 1139.9 L704.0 1136.5 L717.2 1133.0 L730.4 1129.5 L743.6 1126.3 L756.8 1123.3 L770.0 1120.9 L783.2 1118.9 L796.4 1116.7 L809.6 1114.1 L822.8 1110.6 L836.0 1106.5 L849.2 1102.2 L862.4 1098.0 L875.6 1094.3 L888.8 1090.8 L902.0 1087.5 L915.2 1084.3 L928.4 1081.4 L941.6 1078.9 L954.8 1076.9 L968.0 1075.1 L981.2 1073.5 L994.4 1071.8 L1007.6 1070.0 L1020.8 1067.2 L1034.0 1065.5 L1100.0 1066.5 L1166.0 1068.0 L1232.0 1071.3 L1298.0 1076.5 L1364.0 1084.5 L1430.0 1092.0 L1496.0 1097.4 L1562.0 1102.3 L1694.0 1116.2" fill="none" stroke="#FF4040" stroke-width="8.6" stroke-linejoin="round"/>
<g fill="#FF4040"><rect x="365.8" y="1164.3" width="16.5" height="16.5" rx="5"/><rect x="378.9" y="1165.9" width="16.5" height="16.5" rx="5"/><rect x="392.2" y="1167.3" width="16.5" height="16.5" rx="5"/><rect x="405.3" y="1168.3" width="16.5" height="16.5" rx="5"/><rect x="418.6" y="1168.7" width="16.5" height="16.5" rx="5"/><rect x="431.8" y="1168.7" width="16.5" height="16.5" rx="5"/><rect x="445.0" y="1168.7" width="16.5" height="16.5" rx="5"/><rect x="458.2" y="1168.7" width="16.5" height="16.5" rx="5"/><rect x="471.3" y="1168.7" width="16.5" height="16.5" rx="5"/><rect x="484.5" y="1168.7" width="16.5" height="16.5" rx="5"/><rect x="497.8" y="1168.4" width="16.5" height="16.5" rx="5"/><rect x="511.0" y="1167.4" width="16.5" height="16.5" rx="5"/><rect x="524.2" y="1165.9" width="16.5" height="16.5" rx="5"/><rect x="537.3" y="1164.2" width="16.5" height="16.5" rx="5"/><rect x="550.5" y="1162.3" width="16.5" height="16.5" rx="5"/><rect x="563.8" y="1160.3" width="16.5" height="16.5" rx="5"/><rect x="577.0" y="1157.5" width="16.5" height="16.5" rx="5"/><rect x="590.2" y="1154.5" width="16.5" height="16.5" rx="5"/><rect x="603.3" y="1151.5" width="16.5" height="16.5" rx="5"/><rect x="616.5" y="1148.2" width="16.5" height="16.5" rx="5"/><rect x="629.8" y="1144.9" width="16.5" height="16.5" rx="5"/><rect x="642.9" y="1141.5" width="16.5" height="16.5" rx="5"/><rect x="656.2" y="1138.2" width="16.5" height="16.5" rx="5"/><rect x="669.3" y="1134.9" width="16.5" height="16.5" rx="5"/><rect x="682.6" y="1131.6" width="16.5" height="16.5" rx="5"/><rect x="695.8" y="1128.3" width="16.5" height="16.5" rx="5"/><rect x="708.9" y="1124.8" width="16.5" height="16.5" rx="5"/><rect x="722.2" y="1121.3" width="16.5" height="16.5" rx="5"/><rect x="735.3" y="1118.0" width="16.5" height="16.5" rx="5"/><rect x="748.6" y="1115.1" width="16.5" height="16.5" rx="5"/><rect x="761.8" y="1112.7" width="16.5" height="16.5" rx="5"/><rect x="774.9" y="1110.6" width="16.5" height="16.5" rx="5"/><rect x="788.2" y="1108.5" width="16.5" height="16.5" rx="5"/><rect x="801.3" y="1105.8" width="16.5" height="16.5" rx="5"/><rect x="814.6" y="1102.3" width="16.5" height="16.5" rx="5"/><rect x="827.8" y="1098.3" width="16.5" height="16.5" rx="5"/><rect x="840.9" y="1093.9" width="16.5" height="16.5" rx="5"/><rect x="854.2" y="1089.7" width="16.5" height="16.5" rx="5"/><rect x="867.3" y="1086.0" width="16.5" height="16.5" rx="5"/><rect x="880.6" y="1082.6" width="16.5" height="16.5" rx="5"/><rect x="893.8" y="1079.2" width="16.5" height="16.5" rx="5"/><rect x="906.9" y="1076.0" width="16.5" height="16.5" rx="5"/><rect x="920.1" y="1073.2" width="16.5" height="16.5" rx="5"/><rect x="933.4" y="1070.7" width="16.5" height="16.5" rx="5"/><rect x="946.6" y="1068.6" width="16.5" height="16.5" rx="5"/><rect x="959.8" y="1066.9" width="16.5" height="16.5" rx="5"/><rect x="972.9" y="1065.3" width="16.5" height="16.5" rx="5"/><rect x="986.1" y="1063.6" width="16.5" height="16.5" rx="5"/><rect x="999.4" y="1061.7" width="16.5" height="16.5" rx="5"/><rect x="1012.6" y="1059.0" width="16.5" height="16.5" rx="5"/><rect x="1025.8" y="1057.3" width="16.5" height="16.5" rx="5"/><circle cx="1100.0" cy="1066.5" r="8.75"/><circle cx="1166.0" cy="1068.0" r="8.75"/><circle cx="1232.0" cy="1071.3" r="8.75"/><circle cx="1298.0" cy="1076.5" r="8.75"/><circle cx="1364.0" cy="1084.5" r="8.75"/><circle cx="1430.0" cy="1092.0" r="8.75"/><circle cx="1496.0" cy="1097.4" r="8.75"/><circle cx="1562.0" cy="1102.3" r="8.75"/><circle cx="1694.0" cy="1116.2" r="8.75"/></g>
<path d="M374.0 1189.2 L387.2 1191.4 L400.4 1193.4 L413.6 1194.9 L426.8 1195.8 L440.0 1196.3 L453.2 1196.7 L466.4 1197.0 L479.6 1197.2 L492.8 1197.4 L506.0 1197.6 L519.2 1197.7 L532.4 1197.8 L545.6 1197.8 L558.8 1197.9 L572.0 1197.5 L585.2 1196.5 L598.4 1195.1 L611.6 1193.9 L624.8 1192.7 L638.0 1191.4 L651.2 1189.9 L664.4 1188.2 L677.6 1186.2 L690.8 1184.1 L704.0 1182.3 L717.2 1180.5 L730.4 1178.8 L743.6 1176.9 L756.8 1174.6 L770.0 1171.7 L783.2 1168.3 L796.4 1164.5 L809.6 1160.8 L822.8 1156.9 L836.0 1152.8 L849.2 1148.7 L862.4 1144.7 L875.6 1141.1 L888.8 1137.7 L902.0 1134.6 L915.2 1131.6 L928.4 1128.7 L941.6 1125.8 L954.8 1123.0 L968.0 1120.2 L981.2 1117.5 L994.4 1114.8 L1007.6 1112.4 L1020.8 1110.2 L1034.0 1108.1 L1100.0 1099.6 L1166.0 1091.0 L1232.0 1087.3 L1298.0 1088.0 L1364.0 1091.2 L1430.0 1096.5 L1496.0 1101.8 L1562.0 1108.6 L1694.0 1121.0" fill="none" stroke="#8F8FFF" stroke-width="8.6" stroke-linejoin="round"/>
<g fill="#8F8FFF"><rect x="365.8" y="1180.9" width="16.5" height="16.5" rx="5"/><rect x="378.9" y="1183.1" width="16.5" height="16.5" rx="5"/><rect x="392.2" y="1185.1" width="16.5" height="16.5" rx="5"/><rect x="405.3" y="1186.6" width="16.5" height="16.5" rx="5"/><rect x="418.6" y="1187.6" width="16.5" height="16.5" rx="5"/><rect x="431.8" y="1188.1" width="16.5" height="16.5" rx="5"/><rect x="445.0" y="1188.5" width="16.5" height="16.5" rx="5"/><rect x="458.2" y="1188.8" width="16.5" height="16.5" rx="5"/><rect x="471.3" y="1189.0" width="16.5" height="16.5" rx="5"/><rect x="484.5" y="1189.2" width="16.5" height="16.5" rx="5"/><rect x="497.8" y="1189.3" width="16.5" height="16.5" rx="5"/><rect x="511.0" y="1189.4" width="16.5" height="16.5" rx="5"/><rect x="524.2" y="1189.5" width="16.5" height="16.5" rx="5"/><rect x="537.3" y="1189.6" width="16.5" height="16.5" rx="5"/><rect x="550.5" y="1189.6" width="16.5" height="16.5" rx="5"/><rect x="563.8" y="1189.3" width="16.5" height="16.5" rx="5"/><rect x="577.0" y="1188.2" width="16.5" height="16.5" rx="5"/><rect x="590.2" y="1186.9" width="16.5" height="16.5" rx="5"/><rect x="603.3" y="1185.7" width="16.5" height="16.5" rx="5"/><rect x="616.5" y="1184.5" width="16.5" height="16.5" rx="5"/><rect x="629.8" y="1183.2" width="16.5" height="16.5" rx="5"/><rect x="642.9" y="1181.7" width="16.5" height="16.5" rx="5"/><rect x="656.2" y="1179.9" width="16.5" height="16.5" rx="5"/><rect x="669.3" y="1177.9" width="16.5" height="16.5" rx="5"/><rect x="682.6" y="1175.9" width="16.5" height="16.5" rx="5"/><rect x="695.8" y="1174.0" width="16.5" height="16.5" rx="5"/><rect x="708.9" y="1172.3" width="16.5" height="16.5" rx="5"/><rect x="722.2" y="1170.5" width="16.5" height="16.5" rx="5"/><rect x="735.3" y="1168.6" width="16.5" height="16.5" rx="5"/><rect x="748.6" y="1166.4" width="16.5" height="16.5" rx="5"/><rect x="761.8" y="1163.5" width="16.5" height="16.5" rx="5"/><rect x="774.9" y="1160.0" width="16.5" height="16.5" rx="5"/><rect x="788.2" y="1156.3" width="16.5" height="16.5" rx="5"/><rect x="801.3" y="1152.6" width="16.5" height="16.5" rx="5"/><rect x="814.6" y="1148.6" width="16.5" height="16.5" rx="5"/><rect x="827.8" y="1144.5" width="16.5" height="16.5" rx="5"/><rect x="840.9" y="1140.4" width="16.5" height="16.5" rx="5"/><rect x="854.2" y="1136.4" width="16.5" height="16.5" rx="5"/><rect x="867.3" y="1132.8" width="16.5" height="16.5" rx="5"/><rect x="880.6" y="1129.5" width="16.5" height="16.5" rx="5"/><rect x="893.8" y="1126.4" width="16.5" height="16.5" rx="5"/><rect x="906.9" y="1123.4" width="16.5" height="16.5" rx="5"/><rect x="920.1" y="1120.4" width="16.5" height="16.5" rx="5"/><rect x="933.4" y="1117.6" width="16.5" height="16.5" rx="5"/><rect x="946.6" y="1114.7" width="16.5" height="16.5" rx="5"/><rect x="959.8" y="1111.9" width="16.5" height="16.5" rx="5"/><rect x="972.9" y="1109.2" width="16.5" height="16.5" rx="5"/><rect x="986.1" y="1106.6" width="16.5" height="16.5" rx="5"/><rect x="999.4" y="1104.2" width="16.5" height="16.5" rx="5"/><rect x="1012.6" y="1101.9" width="16.5" height="16.5" rx="5"/><rect x="1025.8" y="1099.9" width="16.5" height="16.5" rx="5"/><circle cx="1100.0" cy="1099.6" r="8.75"/><circle cx="1166.0" cy="1091.0" r="8.75"/><circle cx="1232.0" cy="1087.3" r="8.75"/><circle cx="1298.0" cy="1088.0" r="8.75"/><circle cx="1364.0" cy="1091.2" r="8.75"/><circle cx="1430.0" cy="1096.5" r="8.75"/><circle cx="1496.0" cy="1101.8" r="8.75"/><circle cx="1562.0" cy="1108.6" r="8.75"/><circle cx="1694.0" cy="1121.0" r="8.75"/></g>
<path d="M384.0 2069.1 L397.2 2088.8 L410.4 2142.5 L423.6 2167.8 L436.8 2185.7 L450.0 2218.5 L463.2 2239.4 L476.4 2269.1 L489.6 2290.2 L502.8 2305.9 L516.0 2319.9 L529.2 2332.6 L542.4 2345.7 L555.6 2358.7 L568.8 2372.3 L582.0 2385.5 L595.2 2396.9 L608.4 2406.7 L621.6 2414.9 L634.8 2422.0 L648.0 2427.7 L661.2 2432.3 L674.4 2436.2 L687.6 2439.6 L700.8 2442.8 L714.0 2445.6 L727.2 2448.1 L740.4 2450.5 L753.6 2452.9 L766.8 2455.2 L780.0 2457.0 L793.2 2458.8 L806.4 2460.3 L819.6 2461.8 L832.8 2463.0 L846.0 2463.9 L859.2 2464.7 L872.4 2465.4 L885.6 2466.1 L898.8 2466.6 L912.0 2466.9 L925.2 2467.2 L938.4 2467.4 L951.6 2467.7 L964.8 2467.9 L978.0 2468.0 L991.2 2468.2 L1004.4 2468.3 L1017.6 2468.5 L1030.8 2468.6 L1044.0 2468.7 L1110.0 2469.3 L1176.0 2469.6 L1242.0 2469.8 L1308.0 2469.9 L1374.0 2470.0 L1440.0 2470.1 L1506.0 2470.2 L1572.0 2470.3 L1704.0 2470.5" fill="none" stroke="#F00468" stroke-width="8.6" stroke-linejoin="round"/>
<g fill="#F00468"><rect x="375.8" y="2060.9" width="16.5" height="16.5" rx="5"/><rect x="388.9" y="2080.6" width="16.5" height="16.5" rx="5"/><rect x="402.2" y="2134.2" width="16.5" height="16.5" rx="5"/><rect x="415.3" y="2159.6" width="16.5" height="16.5" rx="5"/><rect x="428.6" y="2177.5" width="16.5" height="16.5" rx="5"/><rect x="441.8" y="2210.3" width="16.5" height="16.5" rx="5"/><rect x="455.0" y="2231.1" width="16.5" height="16.5" rx="5"/><rect x="468.2" y="2260.8" width="16.5" height="16.5" rx="5"/><rect x="481.3" y="2281.9" width="16.5" height="16.5" rx="5"/><rect x="494.5" y="2297.7" width="16.5" height="16.5" rx="5"/><rect x="507.8" y="2311.6" width="16.5" height="16.5" rx="5"/><rect x="521.0" y="2324.4" width="16.5" height="16.5" rx="5"/><rect x="534.2" y="2337.4" width="16.5" height="16.5" rx="5"/><rect x="547.3" y="2350.5" width="16.5" height="16.5" rx="5"/><rect x="560.5" y="2364.1" width="16.5" height="16.5" rx="5"/><rect x="573.8" y="2377.3" width="16.5" height="16.5" rx="5"/><rect x="587.0" y="2388.7" width="16.5" height="16.5" rx="5"/><rect x="600.2" y="2398.4" width="16.5" height="16.5" rx="5"/><rect x="613.3" y="2406.6" width="16.5" height="16.5" rx="5"/><rect x="626.5" y="2413.8" width="16.5" height="16.5" rx="5"/><rect x="639.8" y="2419.4" width="16.5" height="16.5" rx="5"/><rect x="652.9" y="2424.0" width="16.5" height="16.5" rx="5"/><rect x="666.2" y="2427.9" width="16.5" height="16.5" rx="5"/><rect x="679.3" y="2431.4" width="16.5" height="16.5" rx="5"/><rect x="692.6" y="2434.5" width="16.5" height="16.5" rx="5"/><rect x="705.8" y="2437.3" width="16.5" height="16.5" rx="5"/><rect x="718.9" y="2439.9" width="16.5" height="16.5" rx="5"/><rect x="732.2" y="2442.3" width="16.5" height="16.5" rx="5"/><rect x="745.3" y="2444.7" width="16.5" height="16.5" rx="5"/><rect x="758.6" y="2447.0" width="16.5" height="16.5" rx="5"/><rect x="771.8" y="2448.8" width="16.5" height="16.5" rx="5"/><rect x="784.9" y="2450.5" width="16.5" height="16.5" rx="5"/><rect x="798.2" y="2452.1" width="16.5" height="16.5" rx="5"/><rect x="811.3" y="2453.5" width="16.5" height="16.5" rx="5"/><rect x="824.6" y="2454.7" width="16.5" height="16.5" rx="5"/><rect x="837.8" y="2455.7" width="16.5" height="16.5" rx="5"/><rect x="850.9" y="2456.5" width="16.5" height="16.5" rx="5"/><rect x="864.2" y="2457.2" width="16.5" height="16.5" rx="5"/><rect x="877.3" y="2457.8" width="16.5" height="16.5" rx="5"/><rect x="890.6" y="2458.3" width="16.5" height="16.5" rx="5"/><rect x="903.8" y="2458.7" width="16.5" height="16.5" rx="5"/><rect x="916.9" y="2458.9" width="16.5" height="16.5" rx="5"/><rect x="930.1" y="2459.2" width="16.5" height="16.5" rx="5"/><rect x="943.4" y="2459.4" width="16.5" height="16.5" rx="5"/><rect x="956.6" y="2459.6" width="16.5" height="16.5" rx="5"/><rect x="969.8" y="2459.8" width="16.5" height="16.5" rx="5"/><rect x="982.9" y="2459.9" width="16.5" height="16.5" rx="5"/><rect x="996.1" y="2460.1" width="16.5" height="16.5" rx="5"/><rect x="1009.4" y="2460.2" width="16.5" height="16.5" rx="5"/><rect x="1022.6" y="2460.3" width="16.5" height="16.5" rx="5"/><rect x="1035.8" y="2460.5" width="16.5" height="16.5" rx="5"/><circle cx="1110.0" cy="2469.3" r="8.75"/><circle cx="1176.0" cy="2469.6" r="8.75"/><circle cx="1242.0" cy="2469.8" r="8.75"/><circle cx="1308.0" cy="2469.9" r="8.75"/><circle cx="1374.0" cy="2470.0" r="8.75"/><circle cx="1440.0" cy="2470.1" r="8.75"/><circle cx="1506.0" cy="2470.2" r="8.75"/><circle cx="1572.0" cy="2470.3" r="8.75"/><circle cx="1704.0" cy="2470.5" r="8.75"/></g>
<path d="M384.0 1728.0 L397.2 1790.6 L410.4 1823.0 L423.6 1859.2 L436.8 1906.3 L450.0 1935.6 L463.2 1963.0 L476.4 2005.2 L489.6 2025.5 L502.8 2066.7 L516.0 2113.0 L529.2 2145.1 L542.4 2159.6 L555.6 2190.8 L568.8 2210.8 L582.0 2236.3 L595.2 2258.8 L608.4 2276.8 L621.6 2290.0 L634.8 2304.4 L648.0 2318.7 L661.2 2329.0 L674.4 2339.9 L687.6 2352.7 L700.8 2364.8 L714.0 2375.8 L727.2 2385.2 L740.4 2393.3 L753.6 2399.2 L766.8 2403.7 L780.0 2408.5 L793.2 2413.4 L806.4 2418.0 L819.6 2421.8 L832.8 2425.1 L846.0 2428.2 L859.2 2431.4 L872.4 2434.8 L885.6 2438.4 L898.8 2441.7 L912.0 2444.5 L925.2 2446.8 L938.4 2448.8 L951.6 2450.6 L964.8 2452.2 L978.0 2453.8 L991.2 2455.2 L1004.4 2456.3 L1017.6 2457.2 L1030.8 2457.8 L1044.0 2458.5 L1110.0 2460.7 L1176.0 2462.2 L1242.0 2463.4 L1308.0 2464.5 L1374.0 2465.8 L1440.0 2466.9 L1506.0 2467.9 L1572.0 2468.7 L1704.0 2469.9" fill="none" stroke="#8B00A0" stroke-width="8.6" stroke-linejoin="round"/>
<g fill="#8B00A0"><rect x="375.8" y="1719.7" width="16.5" height="16.5" rx="5"/><rect x="388.9" y="1782.4" width="16.5" height="16.5" rx="5"/><rect x="402.2" y="1814.8" width="16.5" height="16.5" rx="5"/><rect x="415.3" y="1851.0" width="16.5" height="16.5" rx="5"/><rect x="428.6" y="1898.1" width="16.5" height="16.5" rx="5"/><rect x="441.8" y="1927.3" width="16.5" height="16.5" rx="5"/><rect x="455.0" y="1954.8" width="16.5" height="16.5" rx="5"/><rect x="468.2" y="1996.9" width="16.5" height="16.5" rx="5"/><rect x="481.3" y="2017.2" width="16.5" height="16.5" rx="5"/><rect x="494.5" y="2058.4" width="16.5" height="16.5" rx="5"/><rect x="507.8" y="2104.7" width="16.5" height="16.5" rx="5"/><rect x="521.0" y="2136.8" width="16.5" height="16.5" rx="5"/><rect x="534.2" y="2151.3" width="16.5" height="16.5" rx="5"/><rect x="547.3" y="2182.5" width="16.5" height="16.5" rx="5"/><rect x="560.5" y="2202.5" width="16.5" height="16.5" rx="5"/><rect x="573.8" y="2228.1" width="16.5" height="16.5" rx="5"/><rect x="587.0" y="2250.5" width="16.5" height="16.5" rx="5"/><rect x="600.2" y="2268.5" width="16.5" height="16.5" rx="5"/><rect x="613.3" y="2281.7" width="16.5" height="16.5" rx="5"/><rect x="626.5" y="2296.1" width="16.5" height="16.5" rx="5"/><rect x="639.8" y="2310.5" width="16.5" height="16.5" rx="5"/><rect x="652.9" y="2320.8" width="16.5" height="16.5" rx="5"/><rect x="666.2" y="2331.6" width="16.5" height="16.5" rx="5"/><rect x="679.3" y="2344.5" width="16.5" height="16.5" rx="5"/><rect x="692.6" y="2356.6" width="16.5" height="16.5" rx="5"/><rect x="705.8" y="2367.5" width="16.5" height="16.5" rx="5"/><rect x="718.9" y="2377.0" width="16.5" height="16.5" rx="5"/><rect x="732.2" y="2385.0" width="16.5" height="16.5" rx="5"/><rect x="745.3" y="2391.0" width="16.5" height="16.5" rx="5"/><rect x="758.6" y="2395.4" width="16.5" height="16.5" rx="5"/><rect x="771.8" y="2400.2" width="16.5" height="16.5" rx="5"/><rect x="784.9" y="2405.2" width="16.5" height="16.5" rx="5"/><rect x="798.2" y="2409.7" width="16.5" height="16.5" rx="5"/><rect x="811.3" y="2413.5" width="16.5" height="16.5" rx="5"/><rect x="824.6" y="2416.9" width="16.5" height="16.5" rx="5"/><rect x="837.8" y="2420.0" width="16.5" height="16.5" rx="5"/><rect x="850.9" y="2423.2" width="16.5" height="16.5" rx="5"/><rect x="864.2" y="2426.6" width="16.5" height="16.5" rx="5"/><rect x="877.3" y="2430.1" width="16.5" height="16.5" rx="5"/><rect x="890.6" y="2433.5" width="16.5" height="16.5" rx="5"/><rect x="903.8" y="2436.3" width="16.5" height="16.5" rx="5"/><rect x="916.9" y="2438.5" width="16.5" height="16.5" rx="5"/><rect x="930.1" y="2440.5" width="16.5" height="16.5" rx="5"/><rect x="943.4" y="2442.3" width="16.5" height="16.5" rx="5"/><rect x="956.6" y="2443.9" width="16.5" height="16.5" rx="5"/><rect x="969.8" y="2445.5" width="16.5" height="16.5" rx="5"/><rect x="982.9" y="2446.9" width="16.5" height="16.5" rx="5"/><rect x="996.1" y="2448.1" width="16.5" height="16.5" rx="5"/><rect x="1009.4" y="2448.9" width="16.5" height="16.5" rx="5"/><rect x="1022.6" y="2449.6" width="16.5" height="16.5" rx="5"/><rect x="1035.8" y="2450.2" width="16.5" height="16.5" rx="5"/><circle cx="1110.0" cy="2460.7" r="8.75"/><circle cx="1176.0" cy="2462.2" r="8.75"/><circle cx="1242.0" cy="2463.4" r="8.75"/><circle cx="1308.0" cy="2464.5" r="8.75"/><circle cx="1374.0" cy="2465.8" r="8.75"/><circle cx="1440.0" cy="2466.9" r="8.75"/><circle cx="1506.0" cy="2467.9" r="8.75"/><circle cx="1572.0" cy="2468.7" r="8.75"/><circle cx="1704.0" cy="2469.9" r="8.75"/></g>
<path d="M384.0 1677.0 L397.2 1691.6 L410.4 1708.3 L423.6 1724.2 L436.8 1749.0 L450.0 1775.2 L463.2 1797.7 L476.4 1815.8 L489.6 1843.9 L502.8 1867.6 L516.0 1897.1 L529.2 1920.4 L542.4 1946.0 L555.6 1973.7 L568.8 2002.3 L582.0 2031.3 L595.2 2060.5 L608.4 2090.3 L621.6 2118.2 L634.8 2142.7 L648.0 2164.9 L661.2 2185.0 L674.4 2204.4 L687.6 2223.7 L700.8 2240.9 L714.0 2255.8 L727.2 2269.6 L740.4 2282.6 L753.6 2296.2 L766.8 2310.0 L780.0 2323.6 L793.2 2336.6 L806.4 2348.4 L819.6 2358.6 L832.8 2368.0 L846.0 2376.4 L859.2 2383.4 L872.4 2389.0 L885.6 2393.6 L898.8 2397.8 L912.0 2402.0 L925.2 2406.3 L938.4 2410.3 L951.6 2414.2 L964.8 2417.9 L978.0 2421.6 L991.2 2425.2 L1004.4 2428.2 L1017.6 2430.3 L1030.8 2432.0 L1044.0 2433.4 L1110.0 2441.9 L1176.0 2448.7 L1242.0 2453.9 L1308.0 2458.0 L1374.0 2461.3 L1440.0 2463.9 L1506.0 2465.8 L1572.0 2467.2 L1704.0 2469.3" fill="none" stroke="#0000C8" stroke-width="8.6" stroke-linejoin="round"/>
<g fill="#0000C8"><rect x="375.8" y="1668.7" width="16.5" height="16.5" rx="5"/><rect x="388.9" y="1683.4" width="16.5" height="16.5" rx="5"/><rect x="402.2" y="1700.1" width="16.5" height="16.5" rx="5"/><rect x="415.3" y="1715.9" width="16.5" height="16.5" rx="5"/><rect x="428.6" y="1740.8" width="16.5" height="16.5" rx="5"/><rect x="441.8" y="1767.0" width="16.5" height="16.5" rx="5"/><rect x="455.0" y="1789.4" width="16.5" height="16.5" rx="5"/><rect x="468.2" y="1807.6" width="16.5" height="16.5" rx="5"/><rect x="481.3" y="1835.6" width="16.5" height="16.5" rx="5"/><rect x="494.5" y="1859.4" width="16.5" height="16.5" rx="5"/><rect x="507.8" y="1888.8" width="16.5" height="16.5" rx="5"/><rect x="521.0" y="1912.1" width="16.5" height="16.5" rx="5"/><rect x="534.2" y="1937.7" width="16.5" height="16.5" rx="5"/><rect x="547.3" y="1965.4" width="16.5" height="16.5" rx="5"/><rect x="560.5" y="1994.1" width="16.5" height="16.5" rx="5"/><rect x="573.8" y="2023.1" width="16.5" height="16.5" rx="5"/><rect x="587.0" y="2052.2" width="16.5" height="16.5" rx="5"/><rect x="600.2" y="2082.0" width="16.5" height="16.5" rx="5"/><rect x="613.3" y="2110.0" width="16.5" height="16.5" rx="5"/><rect x="626.5" y="2134.5" width="16.5" height="16.5" rx="5"/><rect x="639.8" y="2156.7" width="16.5" height="16.5" rx="5"/><rect x="652.9" y="2176.8" width="16.5" height="16.5" rx="5"/><rect x="666.2" y="2196.1" width="16.5" height="16.5" rx="5"/><rect x="679.3" y="2215.5" width="16.5" height="16.5" rx="5"/><rect x="692.6" y="2232.7" width="16.5" height="16.5" rx="5"/><rect x="705.8" y="2247.5" width="16.5" height="16.5" rx="5"/><rect x="718.9" y="2261.3" width="16.5" height="16.5" rx="5"/><rect x="732.2" y="2274.3" width="16.5" height="16.5" rx="5"/><rect x="745.3" y="2288.0" width="16.5" height="16.5" rx="5"/><rect x="758.6" y="2301.7" width="16.5" height="16.5" rx="5"/><rect x="771.8" y="2315.3" width="16.5" height="16.5" rx="5"/><rect x="784.9" y="2328.4" width="16.5" height="16.5" rx="5"/><rect x="798.2" y="2340.1" width="16.5" height="16.5" rx="5"/><rect x="811.3" y="2350.3" width="16.5" height="16.5" rx="5"/><rect x="824.6" y="2359.7" width="16.5" height="16.5" rx="5"/><rect x="837.8" y="2368.2" width="16.5" height="16.5" rx="5"/><rect x="850.9" y="2375.2" width="16.5" height="16.5" rx="5"/><rect x="864.2" y="2380.7" width="16.5" height="16.5" rx="5"/><rect x="877.3" y="2385.4" width="16.5" height="16.5" rx="5"/><rect x="890.6" y="2389.6" width="16.5" height="16.5" rx="5"/><rect x="903.8" y="2393.8" width="16.5" height="16.5" rx="5"/><rect x="916.9" y="2398.0" width="16.5" height="16.5" rx="5"/><rect x="930.1" y="2402.1" width="16.5" height="16.5" rx="5"/><rect x="943.4" y="2406.0" width="16.5" height="16.5" rx="5"/><rect x="956.6" y="2409.7" width="16.5" height="16.5" rx="5"/><rect x="969.8" y="2413.4" width="16.5" height="16.5" rx="5"/><rect x="982.9" y="2416.9" width="16.5" height="16.5" rx="5"/><rect x="996.1" y="2419.9" width="16.5" height="16.5" rx="5"/><rect x="1009.4" y="2422.1" width="16.5" height="16.5" rx="5"/><rect x="1022.6" y="2423.7" width="16.5" height="16.5" rx="5"/><rect x="1035.8" y="2425.1" width="16.5" height="16.5" rx="5"/><circle cx="1110.0" cy="2441.9" r="8.75"/><circle cx="1176.0" cy="2448.7" r="8.75"/><circle cx="1242.0" cy="2453.9" r="8.75"/><circle cx="1308.0" cy="2458.0" r="8.75"/><circle cx="1374.0" cy="2461.3" r="8.75"/><circle cx="1440.0" cy="2463.9" r="8.75"/><circle cx="1506.0" cy="2465.8" r="8.75"/><circle cx="1572.0" cy="2467.2" r="8.75"/><circle cx="1704.0" cy="2469.3" r="8.75"/></g>
<path d="M384.0 1704.7 L397.2 1713.2 L410.4 1722.4 L423.6 1732.3 L436.8 1743.0 L450.0 1755.0 L463.2 1767.6 L476.4 1780.2 L489.6 1795.4 L502.8 1819.9 L516.0 1841.2 L529.2 1859.4 L542.4 1877.7 L555.6 1897.1 L568.8 1921.0 L582.0 1943.4 L595.2 1963.9 L608.4 1985.1 L621.6 2007.7 L634.8 2034.1 L648.0 2060.2 L661.2 2082.8 L674.4 2104.6 L687.6 2125.9 L700.8 2147.1 L714.0 2168.7 L727.2 2188.6 L740.4 2206.9 L753.6 2223.9 L766.8 2239.8 L780.0 2255.5 L793.2 2270.6 L806.4 2284.7 L819.6 2297.4 L832.8 2309.5 L846.0 2320.6 L859.2 2330.6 L872.4 2339.6 L885.6 2347.8 L898.8 2355.3 L912.0 2362.0 L925.2 2367.9 L938.4 2373.2 L951.6 2378.2 L964.8 2383.1 L978.0 2387.8 L991.2 2392.4 L1004.4 2396.9 L1017.6 2401.6 L1030.8 2406.5 L1044.0 2411.4 L1110.0 2427.9 L1176.0 2437.7 L1242.0 2445.9 L1308.0 2452.6 L1374.0 2457.7 L1440.0 2461.6 L1506.0 2464.1 L1572.0 2466.0 L1704.0 2469.0" fill="none" stroke="#BE0000" stroke-width="8.6" stroke-linejoin="round"/>
<g fill="#BE0000"><rect x="375.8" y="1696.5" width="16.5" height="16.5" rx="5"/><rect x="388.9" y="1705.0" width="16.5" height="16.5" rx="5"/><rect x="402.2" y="1714.2" width="16.5" height="16.5" rx="5"/><rect x="415.3" y="1724.0" width="16.5" height="16.5" rx="5"/><rect x="428.6" y="1734.8" width="16.5" height="16.5" rx="5"/><rect x="441.8" y="1746.7" width="16.5" height="16.5" rx="5"/><rect x="455.0" y="1759.4" width="16.5" height="16.5" rx="5"/><rect x="468.2" y="1771.9" width="16.5" height="16.5" rx="5"/><rect x="481.3" y="1787.2" width="16.5" height="16.5" rx="5"/><rect x="494.5" y="1811.7" width="16.5" height="16.5" rx="5"/><rect x="507.8" y="1833.0" width="16.5" height="16.5" rx="5"/><rect x="521.0" y="1851.2" width="16.5" height="16.5" rx="5"/><rect x="534.2" y="1869.5" width="16.5" height="16.5" rx="5"/><rect x="547.3" y="1888.8" width="16.5" height="16.5" rx="5"/><rect x="560.5" y="1912.7" width="16.5" height="16.5" rx="5"/><rect x="573.8" y="1935.2" width="16.5" height="16.5" rx="5"/><rect x="587.0" y="1955.6" width="16.5" height="16.5" rx="5"/><rect x="600.2" y="1976.9" width="16.5" height="16.5" rx="5"/><rect x="613.3" y="1999.4" width="16.5" height="16.5" rx="5"/><rect x="626.5" y="2025.8" width="16.5" height="16.5" rx="5"/><rect x="639.8" y="2052.0" width="16.5" height="16.5" rx="5"/><rect x="652.9" y="2074.6" width="16.5" height="16.5" rx="5"/><rect x="666.2" y="2096.3" width="16.5" height="16.5" rx="5"/><rect x="679.3" y="2117.6" width="16.5" height="16.5" rx="5"/><rect x="692.6" y="2138.9" width="16.5" height="16.5" rx="5"/><rect x="705.8" y="2160.4" width="16.5" height="16.5" rx="5"/><rect x="718.9" y="2180.4" width="16.5" height="16.5" rx="5"/><rect x="732.2" y="2198.6" width="16.5" height="16.5" rx="5"/><rect x="745.3" y="2215.7" width="16.5" height="16.5" rx="5"/><rect x="758.6" y="2231.6" width="16.5" height="16.5" rx="5"/><rect x="771.8" y="2247.3" width="16.5" height="16.5" rx="5"/><rect x="784.9" y="2262.4" width="16.5" height="16.5" rx="5"/><rect x="798.2" y="2276.4" width="16.5" height="16.5" rx="5"/><rect x="811.3" y="2289.2" width="16.5" height="16.5" rx="5"/><rect x="824.6" y="2301.2" width="16.5" height="16.5" rx="5"/><rect x="837.8" y="2312.3" width="16.5" height="16.5" rx="5"/><rect x="850.9" y="2322.4" width="16.5" height="16.5" rx="5"/><rect x="864.2" y="2331.3" width="16.5" height="16.5" rx="5"/><rect x="877.3" y="2339.6" width="16.5" height="16.5" rx="5"/><rect x="890.6" y="2347.1" width="16.5" height="16.5" rx="5"/><rect x="903.8" y="2353.7" width="16.5" height="16.5" rx="5"/><rect x="916.9" y="2359.6" width="16.5" height="16.5" rx="5"/><rect x="930.1" y="2364.9" width="16.5" height="16.5" rx="5"/><rect x="943.4" y="2369.9" width="16.5" height="16.5" rx="5"/><rect x="956.6" y="2374.9" width="16.5" height="16.5" rx="5"/><rect x="969.8" y="2379.6" width="16.5" height="16.5" rx="5"/><rect x="982.9" y="2384.2" width="16.5" height="16.5" rx="5"/><rect x="996.1" y="2388.7" width="16.5" height="16.5" rx="5"/><rect x="1009.4" y="2393.4" width="16.5" height="16.5" rx="5"/><rect x="1022.6" y="2398.3" width="16.5" height="16.5" rx="5"/><rect x="1035.8" y="2403.1" width="16.5" height="16.5" rx="5"/><circle cx="1110.0" cy="2427.9" r="8.75"/><circle cx="1176.0" cy="2437.7" r="8.75"/><circle cx="1242.0" cy="2445.9" r="8.75"/><circle cx="1308.0" cy="2452.6" r="8.75"/><circle cx="1374.0" cy="2457.7" r="8.75"/><circle cx="1440.0" cy="2461.6" r="8.75"/><circle cx="1506.0" cy="2464.1" r="8.75"/><circle cx="1572.0" cy="2466.0" r="8.75"/><circle cx="1704.0" cy="2469.0" r="8.75"/></g>
<path d="M384.0 1737.8 L397.2 1742.6 L410.4 1748.0 L423.6 1754.1 L436.8 1761.0 L450.0 1768.4 L463.2 1776.2 L476.4 1785.1 L489.6 1797.5 L502.8 1808.6 L516.0 1817.7 L529.2 1829.1 L542.4 1845.5 L555.6 1865.1 L568.8 1884.2 L582.0 1903.0 L595.2 1924.5 L608.4 1946.0 L621.6 1966.8 L634.8 1989.2 L648.0 2011.9 L661.2 2033.7 L674.4 2055.3 L687.6 2077.7 L700.8 2101.7 L714.0 2124.5 L727.2 2145.6 L740.4 2165.2 L753.6 2183.2 L766.8 2199.8 L780.0 2215.2 L793.2 2229.9 L806.4 2244.3 L819.6 2258.8 L832.8 2273.3 L846.0 2287.3 L859.2 2300.2 L872.4 2312.0 L885.6 2323.2 L898.8 2333.4 L912.0 2342.2 L925.2 2349.6 L938.4 2356.2 L951.6 2362.3 L964.8 2368.2 L978.0 2373.8 L991.2 2379.1 L1004.4 2384.2 L1017.6 2389.2 L1030.8 2394.1 L1044.0 2398.8 L1110.0 2416.8 L1176.0 2433.2 L1242.0 2444.6 L1308.0 2451.1 L1374.0 2456.6 L1440.0 2461.0 L1506.0 2463.9 L1572.0 2466.0 L1704.0 2469.0" fill="none" stroke="#00BF78" stroke-width="8.6" stroke-linejoin="round"/>
<g fill="#00BF78"><rect x="375.8" y="1729.6" width="16.5" height="16.5" rx="5"/><rect x="388.9" y="1734.3" width="16.5" height="16.5" rx="5"/><rect x="402.2" y="1739.8" width="16.5" height="16.5" rx="5"/><rect x="415.3" y="1745.9" width="16.5" height="16.5" rx="5"/><rect x="428.6" y="1752.7" width="16.5" height="16.5" rx="5"/><rect x="441.8" y="1760.2" width="16.5" height="16.5" rx="5"/><rect x="455.0" y="1767.9" width="16.5" height="16.5" rx="5"/><rect x="468.2" y="1776.9" width="16.5" height="16.5" rx="5"/><rect x="481.3" y="1789.3" width="16.5" height="16.5" rx="5"/><rect x="494.5" y="1800.4" width="16.5" height="16.5" rx="5"/><rect x="507.8" y="1809.5" width="16.5" height="16.5" rx="5"/><rect x="521.0" y="1820.8" width="16.5" height="16.5" rx="5"/><rect x="534.2" y="1837.2" width="16.5" height="16.5" rx="5"/><rect x="547.3" y="1856.9" width="16.5" height="16.5" rx="5"/><rect x="560.5" y="1875.9" width="16.5" height="16.5" rx="5"/><rect x="573.8" y="1894.8" width="16.5" height="16.5" rx="5"/><rect x="587.0" y="1916.2" width="16.5" height="16.5" rx="5"/><rect x="600.2" y="1937.7" width="16.5" height="16.5" rx="5"/><rect x="613.3" y="1958.6" width="16.5" height="16.5" rx="5"/><rect x="626.5" y="1980.9" width="16.5" height="16.5" rx="5"/><rect x="639.8" y="2003.6" width="16.5" height="16.5" rx="5"/><rect x="652.9" y="2025.4" width="16.5" height="16.5" rx="5"/><rect x="666.2" y="2047.1" width="16.5" height="16.5" rx="5"/><rect x="679.3" y="2069.4" width="16.5" height="16.5" rx="5"/><rect x="692.6" y="2093.4" width="16.5" height="16.5" rx="5"/><rect x="705.8" y="2116.2" width="16.5" height="16.5" rx="5"/><rect x="718.9" y="2137.4" width="16.5" height="16.5" rx="5"/><rect x="732.2" y="2156.9" width="16.5" height="16.5" rx="5"/><rect x="745.3" y="2175.0" width="16.5" height="16.5" rx="5"/><rect x="758.6" y="2191.5" width="16.5" height="16.5" rx="5"/><rect x="771.8" y="2207.0" width="16.5" height="16.5" rx="5"/><rect x="784.9" y="2221.7" width="16.5" height="16.5" rx="5"/><rect x="798.2" y="2236.1" width="16.5" height="16.5" rx="5"/><rect x="811.3" y="2250.6" width="16.5" height="16.5" rx="5"/><rect x="824.6" y="2265.1" width="16.5" height="16.5" rx="5"/><rect x="837.8" y="2279.1" width="16.5" height="16.5" rx="5"/><rect x="850.9" y="2292.0" width="16.5" height="16.5" rx="5"/><rect x="864.2" y="2303.8" width="16.5" height="16.5" rx="5"/><rect x="877.3" y="2315.0" width="16.5" height="16.5" rx="5"/><rect x="890.6" y="2325.2" width="16.5" height="16.5" rx="5"/><rect x="903.8" y="2333.9" width="16.5" height="16.5" rx="5"/><rect x="916.9" y="2341.4" width="16.5" height="16.5" rx="5"/><rect x="930.1" y="2348.0" width="16.5" height="16.5" rx="5"/><rect x="943.4" y="2354.0" width="16.5" height="16.5" rx="5"/><rect x="956.6" y="2359.9" width="16.5" height="16.5" rx="5"/><rect x="969.8" y="2365.5" width="16.5" height="16.5" rx="5"/><rect x="982.9" y="2370.9" width="16.5" height="16.5" rx="5"/><rect x="996.1" y="2376.0" width="16.5" height="16.5" rx="5"/><rect x="1009.4" y="2380.9" width="16.5" height="16.5" rx="5"/><rect x="1022.6" y="2385.8" width="16.5" height="16.5" rx="5"/><rect x="1035.8" y="2390.5" width="16.5" height="16.5" rx="5"/><circle cx="1110.0" cy="2416.8" r="8.75"/><circle cx="1176.0" cy="2433.2" r="8.75"/><circle cx="1242.0" cy="2444.6" r="8.75"/><circle cx="1308.0" cy="2451.1" r="8.75"/><circle cx="1374.0" cy="2456.6" r="8.75"/><circle cx="1440.0" cy="2461.0" r="8.75"/><circle cx="1506.0" cy="2463.9" r="8.75"/><circle cx="1572.0" cy="2466.0" r="8.75"/><circle cx="1704.0" cy="2469.0" r="8.75"/></g>
<path d="M384.0 1879.2 L397.2 1886.6 L410.4 1885.2 L423.6 1882.1 L436.8 1879.2 L450.0 1876.9 L463.2 1874.8 L476.4 1872.9 L489.6 1871.3 L502.8 1870.2 L516.0 1870.9 L529.2 1872.8 L542.4 1875.4 L555.6 1878.4 L568.8 1882.8 L582.0 1888.1 L595.2 1893.7 L608.4 1899.3 L621.6 1905.5 L634.8 1913.2 L648.0 1924.0 L661.2 1938.3 L674.4 1953.5 L687.6 1970.3 L700.8 1988.4 L714.0 2003.5 L727.2 2018.0 L740.4 2035.1 L753.6 2052.6 L766.8 2067.5 L780.0 2080.1 L793.2 2093.4 L806.4 2111.2 L819.6 2131.9 L832.8 2149.0 L846.0 2164.5 L859.2 2179.4 L872.4 2194.5 L885.6 2209.5 L898.8 2223.9 L912.0 2237.4 L925.2 2250.1 L938.4 2262.3 L951.6 2273.7 L964.8 2284.2 L978.0 2293.9 L991.2 2303.0 L1004.4 2311.9 L1017.6 2320.8 L1030.8 2329.8 L1044.0 2338.6 L1110.0 2373.9 L1176.0 2398.0 L1242.0 2420.4 L1308.0 2435.0 L1374.0 2444.6 L1440.0 2452.9 L1506.0 2459.2 L1572.0 2464.2 L1704.0 2469.0" fill="none" stroke="#FF0000" stroke-width="8.6" stroke-linejoin="round"/>
<g fill="#FF0000"><rect x="375.8" y="1870.9" width="16.5" height="16.5" rx="5"/><rect x="388.9" y="1878.4" width="16.5" height="16.5" rx="5"/><rect x="402.2" y="1876.9" width="16.5" height="16.5" rx="5"/><rect x="415.3" y="1873.8" width="16.5" height="16.5" rx="5"/><rect x="428.6" y="1870.9" width="16.5" height="16.5" rx="5"/><rect x="441.8" y="1868.7" width="16.5" height="16.5" rx="5"/><rect x="455.0" y="1866.6" width="16.5" height="16.5" rx="5"/><rect x="468.2" y="1864.7" width="16.5" height="16.5" rx="5"/><rect x="481.3" y="1863.1" width="16.5" height="16.5" rx="5"/><rect x="494.5" y="1862.0" width="16.5" height="16.5" rx="5"/><rect x="507.8" y="1862.6" width="16.5" height="16.5" rx="5"/><rect x="521.0" y="1864.5" width="16.5" height="16.5" rx="5"/><rect x="534.2" y="1867.1" width="16.5" height="16.5" rx="5"/><rect x="547.3" y="1870.1" width="16.5" height="16.5" rx="5"/><rect x="560.5" y="1874.5" width="16.5" height="16.5" rx="5"/><rect x="573.8" y="1879.9" width="16.5" height="16.5" rx="5"/><rect x="587.0" y="1885.4" width="16.5" height="16.5" rx="5"/><rect x="600.2" y="1891.0" width="16.5" height="16.5" rx="5"/><rect x="613.3" y="1897.3" width="16.5" height="16.5" rx="5"/><rect x="626.5" y="1904.9" width="16.5" height="16.5" rx="5"/><rect x="639.8" y="1915.8" width="16.5" height="16.5" rx="5"/><rect x="652.9" y="1930.0" width="16.5" height="16.5" rx="5"/><rect x="666.2" y="1945.3" width="16.5" height="16.5" rx="5"/><rect x="679.3" y="1962.0" width="16.5" height="16.5" rx="5"/><rect x="692.6" y="1980.1" width="16.5" height="16.5" rx="5"/><rect x="705.8" y="1995.3" width="16.5" height="16.5" rx="5"/><rect x="718.9" y="2009.7" width="16.5" height="16.5" rx="5"/><rect x="732.2" y="2026.9" width="16.5" height="16.5" rx="5"/><rect x="745.3" y="2044.3" width="16.5" height="16.5" rx="5"/><rect x="758.6" y="2059.3" width="16.5" height="16.5" rx="5"/><rect x="771.8" y="2071.8" width="16.5" height="16.5" rx="5"/><rect x="784.9" y="2085.2" width="16.5" height="16.5" rx="5"/><rect x="798.2" y="2103.0" width="16.5" height="16.5" rx="5"/><rect x="811.3" y="2123.7" width="16.5" height="16.5" rx="5"/><rect x="824.6" y="2140.8" width="16.5" height="16.5" rx="5"/><rect x="837.8" y="2156.2" width="16.5" height="16.5" rx="5"/><rect x="850.9" y="2171.2" width="16.5" height="16.5" rx="5"/><rect x="864.2" y="2186.3" width="16.5" height="16.5" rx="5"/><rect x="877.3" y="2201.2" width="16.5" height="16.5" rx="5"/><rect x="890.6" y="2215.7" width="16.5" height="16.5" rx="5"/><rect x="903.8" y="2229.2" width="16.5" height="16.5" rx="5"/><rect x="916.9" y="2241.9" width="16.5" height="16.5" rx="5"/><rect x="930.1" y="2254.0" width="16.5" height="16.5" rx="5"/><rect x="943.4" y="2265.4" width="16.5" height="16.5" rx="5"/><rect x="956.6" y="2276.0" width="16.5" height="16.5" rx="5"/><rect x="969.8" y="2285.7" width="16.5" height="16.5" rx="5"/><rect x="982.9" y="2294.8" width="16.5" height="16.5" rx="5"/><rect x="996.1" y="2303.6" width="16.5" height="16.5" rx="5"/><rect x="1009.4" y="2312.6" width="16.5" height="16.5" rx="5"/><rect x="1022.6" y="2321.6" width="16.5" height="16.5" rx="5"/><rect x="1035.8" y="2330.4" width="16.5" height="16.5" rx="5"/><circle cx="1110.0" cy="2373.9" r="8.75"/><circle cx="1176.0" cy="2398.0" r="8.75"/><circle cx="1242.0" cy="2420.4" r="8.75"/><circle cx="1308.0" cy="2435.0" r="8.75"/><circle cx="1374.0" cy="2444.6" r="8.75"/><circle cx="1440.0" cy="2452.9" r="8.75"/><circle cx="1506.0" cy="2459.2" r="8.75"/><circle cx="1572.0" cy="2464.2" r="8.75"/><circle cx="1704.0" cy="2469.0" r="8.75"/></g>
<path d="M384.0 2076.9 L397.2 2072.8 L410.4 2068.6 L423.6 2064.2 L436.8 2059.8 L450.0 2055.3 L463.2 2050.5 L476.4 2045.2 L489.6 2039.1 L502.8 2032.8 L516.0 2026.9 L529.2 2021.8 L542.4 2017.0 L555.6 2012.5 L568.8 2008.5 L582.0 2004.7 L595.2 2001.1 L608.4 1997.9 L621.6 1995.2 L634.8 1992.5 L648.0 1989.9 L661.2 1988.1 L674.4 1987.8 L687.6 1988.4 L700.8 1989.7 L714.0 1991.5 L727.2 1994.0 L740.4 1999.2 L753.6 2005.5 L766.8 2010.8 L780.0 2015.3 L793.2 2020.0 L806.4 2025.7 L819.6 2033.5 L832.8 2044.2 L846.0 2056.5 L859.2 2069.1 L872.4 2081.9 L885.6 2095.7 L898.8 2109.4 L912.0 2121.9 L925.2 2132.7 L938.4 2142.7 L951.6 2152.9 L964.8 2164.2 L978.0 2177.0 L991.2 2190.4 L1004.4 2204.1 L1017.6 2217.5 L1030.8 2231.4 L1044.0 2245.1 L1110.0 2296.4 L1176.0 2340.2 L1242.0 2374.5 L1308.0 2401.6 L1374.0 2421.9 L1440.0 2438.3 L1506.0 2449.6 L1572.0 2457.7 L1704.0 2467.2" fill="none" stroke="#008200" stroke-width="8.6" stroke-linejoin="round"/>
<g fill="#008200"><rect x="375.8" y="2068.6" width="16.5" height="16.5" rx="5"/><rect x="388.9" y="2064.5" width="16.5" height="16.5" rx="5"/><rect x="402.2" y="2060.3" width="16.5" height="16.5" rx="5"/><rect x="415.3" y="2056.0" width="16.5" height="16.5" rx="5"/><rect x="428.6" y="2051.6" width="16.5" height="16.5" rx="5"/><rect x="441.8" y="2047.1" width="16.5" height="16.5" rx="5"/><rect x="455.0" y="2042.2" width="16.5" height="16.5" rx="5"/><rect x="468.2" y="2037.0" width="16.5" height="16.5" rx="5"/><rect x="481.3" y="2030.9" width="16.5" height="16.5" rx="5"/><rect x="494.5" y="2024.5" width="16.5" height="16.5" rx="5"/><rect x="507.8" y="2018.6" width="16.5" height="16.5" rx="5"/><rect x="521.0" y="2013.5" width="16.5" height="16.5" rx="5"/><rect x="534.2" y="2008.7" width="16.5" height="16.5" rx="5"/><rect x="547.3" y="2004.3" width="16.5" height="16.5" rx="5"/><rect x="560.5" y="2000.2" width="16.5" height="16.5" rx="5"/><rect x="573.8" y="1996.4" width="16.5" height="16.5" rx="5"/><rect x="587.0" y="1992.9" width="16.5" height="16.5" rx="5"/><rect x="600.2" y="1989.7" width="16.5" height="16.5" rx="5"/><rect x="613.3" y="1986.9" width="16.5" height="16.5" rx="5"/><rect x="626.5" y="1984.2" width="16.5" height="16.5" rx="5"/><rect x="639.8" y="1981.7" width="16.5" height="16.5" rx="5"/><rect x="652.9" y="1979.9" width="16.5" height="16.5" rx="5"/><rect x="666.2" y="1979.5" width="16.5" height="16.5" rx="5"/><rect x="679.3" y="1980.1" width="16.5" height="16.5" rx="5"/><rect x="692.6" y="1981.5" width="16.5" height="16.5" rx="5"/><rect x="705.8" y="1983.2" width="16.5" height="16.5" rx="5"/><rect x="718.9" y="1985.8" width="16.5" height="16.5" rx="5"/><rect x="732.2" y="1991.0" width="16.5" height="16.5" rx="5"/><rect x="745.3" y="1997.2" width="16.5" height="16.5" rx="5"/><rect x="758.6" y="2002.5" width="16.5" height="16.5" rx="5"/><rect x="771.8" y="2007.1" width="16.5" height="16.5" rx="5"/><rect x="784.9" y="2011.7" width="16.5" height="16.5" rx="5"/><rect x="798.2" y="2017.4" width="16.5" height="16.5" rx="5"/><rect x="811.3" y="2025.2" width="16.5" height="16.5" rx="5"/><rect x="824.6" y="2035.9" width="16.5" height="16.5" rx="5"/><rect x="837.8" y="2048.3" width="16.5" height="16.5" rx="5"/><rect x="850.9" y="2060.8" width="16.5" height="16.5" rx="5"/><rect x="864.2" y="2073.7" width="16.5" height="16.5" rx="5"/><rect x="877.3" y="2087.5" width="16.5" height="16.5" rx="5"/><rect x="890.6" y="2101.1" width="16.5" height="16.5" rx="5"/><rect x="903.8" y="2113.6" width="16.5" height="16.5" rx="5"/><rect x="916.9" y="2124.4" width="16.5" height="16.5" rx="5"/><rect x="930.1" y="2134.4" width="16.5" height="16.5" rx="5"/><rect x="943.4" y="2144.6" width="16.5" height="16.5" rx="5"/><rect x="956.6" y="2156.0" width="16.5" height="16.5" rx="5"/><rect x="969.8" y="2168.7" width="16.5" height="16.5" rx="5"/><rect x="982.9" y="2182.2" width="16.5" height="16.5" rx="5"/><rect x="996.1" y="2195.8" width="16.5" height="16.5" rx="5"/><rect x="1009.4" y="2209.3" width="16.5" height="16.5" rx="5"/><rect x="1022.6" y="2223.2" width="16.5" height="16.5" rx="5"/><rect x="1035.8" y="2236.9" width="16.5" height="16.5" rx="5"/><circle cx="1110.0" cy="2296.4" r="8.75"/><circle cx="1176.0" cy="2340.2" r="8.75"/><circle cx="1242.0" cy="2374.5" r="8.75"/><circle cx="1308.0" cy="2401.6" r="8.75"/><circle cx="1374.0" cy="2421.9" r="8.75"/><circle cx="1440.0" cy="2438.3" r="8.75"/><circle cx="1506.0" cy="2449.6" r="8.75"/><circle cx="1572.0" cy="2457.7" r="8.75"/><circle cx="1704.0" cy="2467.2" r="8.75"/></g>
<path d="M384.0 2178.3 L397.2 2173.6 L410.4 2169.0 L423.6 2164.4 L436.8 2159.9 L450.0 2155.4 L463.2 2150.7 L476.4 2145.5 L489.6 2139.7 L502.8 2133.6 L516.0 2127.3 L529.2 2121.1 L542.4 2114.7 L555.6 2108.3 L568.8 2101.7 L582.0 2095.1 L595.2 2088.3 L608.4 2081.6 L621.6 2075.4 L634.8 2069.4 L648.0 2063.7 L661.2 2058.5 L674.4 2054.2 L687.6 2050.1 L700.8 2046.4 L714.0 2043.7 L727.2 2042.3 L740.4 2041.2 L753.6 2040.4 L766.8 2039.9 L780.0 2040.2 L793.2 2042.0 L806.4 2044.5 L819.6 2047.5 L832.8 2051.7 L846.0 2056.9 L859.2 2062.3 L872.4 2068.0 L885.6 2074.3 L898.8 2081.2 L912.0 2088.7 L925.2 2097.2 L938.4 2106.5 L951.6 2116.3 L964.8 2126.0 L978.0 2135.8 L991.2 2145.7 L1004.4 2155.7 L1017.6 2165.6 L1030.8 2175.4 L1044.0 2185.3 L1110.0 2239.4 L1176.0 2285.0 L1242.0 2332.7 L1308.0 2371.2 L1374.0 2399.5 L1440.0 2421.9 L1506.0 2436.5 L1572.0 2447.8 L1704.0 2464.2" fill="none" stroke="#FF4040" stroke-width="8.6" stroke-linejoin="round"/>
<g fill="#FF4040"><rect x="375.8" y="2170.0" width="16.5" height="16.5" rx="5"/><rect x="388.9" y="2165.4" width="16.5" height="16.5" rx="5"/><rect x="402.2" y="2160.7" width="16.5" height="16.5" rx="5"/><rect x="415.3" y="2156.1" width="16.5" height="16.5" rx="5"/><rect x="428.6" y="2151.6" width="16.5" height="16.5" rx="5"/><rect x="441.8" y="2147.2" width="16.5" height="16.5" rx="5"/><rect x="455.0" y="2142.4" width="16.5" height="16.5" rx="5"/><rect x="468.2" y="2137.2" width="16.5" height="16.5" rx="5"/><rect x="481.3" y="2131.4" width="16.5" height="16.5" rx="5"/><rect x="494.5" y="2125.3" width="16.5" height="16.5" rx="5"/><rect x="507.8" y="2119.1" width="16.5" height="16.5" rx="5"/><rect x="521.0" y="2112.9" width="16.5" height="16.5" rx="5"/><rect x="534.2" y="2106.5" width="16.5" height="16.5" rx="5"/><rect x="547.3" y="2100.0" width="16.5" height="16.5" rx="5"/><rect x="560.5" y="2093.5" width="16.5" height="16.5" rx="5"/><rect x="573.8" y="2086.9" width="16.5" height="16.5" rx="5"/><rect x="587.0" y="2080.1" width="16.5" height="16.5" rx="5"/><rect x="600.2" y="2073.4" width="16.5" height="16.5" rx="5"/><rect x="613.3" y="2067.1" width="16.5" height="16.5" rx="5"/><rect x="626.5" y="2061.2" width="16.5" height="16.5" rx="5"/><rect x="639.8" y="2055.5" width="16.5" height="16.5" rx="5"/><rect x="652.9" y="2050.3" width="16.5" height="16.5" rx="5"/><rect x="666.2" y="2045.9" width="16.5" height="16.5" rx="5"/><rect x="679.3" y="2041.8" width="16.5" height="16.5" rx="5"/><rect x="692.6" y="2038.2" width="16.5" height="16.5" rx="5"/><rect x="705.8" y="2035.5" width="16.5" height="16.5" rx="5"/><rect x="718.9" y="2034.0" width="16.5" height="16.5" rx="5"/><rect x="732.2" y="2032.9" width="16.5" height="16.5" rx="5"/><rect x="745.3" y="2032.1" width="16.5" height="16.5" rx="5"/><rect x="758.6" y="2031.7" width="16.5" height="16.5" rx="5"/><rect x="771.8" y="2032.0" width="16.5" height="16.5" rx="5"/><rect x="784.9" y="2033.7" width="16.5" height="16.5" rx="5"/><rect x="798.2" y="2036.2" width="16.5" height="16.5" rx="5"/><rect x="811.3" y="2039.2" width="16.5" height="16.5" rx="5"/><rect x="824.6" y="2043.5" width="16.5" height="16.5" rx="5"/><rect x="837.8" y="2048.6" width="16.5" height="16.5" rx="5"/><rect x="850.9" y="2054.1" width="16.5" height="16.5" rx="5"/><rect x="864.2" y="2059.8" width="16.5" height="16.5" rx="5"/><rect x="877.3" y="2066.1" width="16.5" height="16.5" rx="5"/><rect x="890.6" y="2073.0" width="16.5" height="16.5" rx="5"/><rect x="903.8" y="2080.4" width="16.5" height="16.5" rx="5"/><rect x="916.9" y="2088.9" width="16.5" height="16.5" rx="5"/><rect x="930.1" y="2098.3" width="16.5" height="16.5" rx="5"/><rect x="943.4" y="2108.1" width="16.5" height="16.5" rx="5"/><rect x="956.6" y="2117.7" width="16.5" height="16.5" rx="5"/><rect x="969.8" y="2127.5" width="16.5" height="16.5" rx="5"/><rect x="982.9" y="2137.5" width="16.5" height="16.5" rx="5"/><rect x="996.1" y="2147.4" width="16.5" height="16.5" rx="5"/><rect x="1009.4" y="2157.4" width="16.5" height="16.5" rx="5"/><rect x="1022.6" y="2167.2" width="16.5" height="16.5" rx="5"/><rect x="1035.8" y="2177.0" width="16.5" height="16.5" rx="5"/><circle cx="1110.0" cy="2239.4" r="8.75"/><circle cx="1176.0" cy="2285.0" r="8.75"/><circle cx="1242.0" cy="2332.7" r="8.75"/><circle cx="1308.0" cy="2371.2" r="8.75"/><circle cx="1374.0" cy="2399.5" r="8.75"/><circle cx="1440.0" cy="2421.9" r="8.75"/><circle cx="1506.0" cy="2436.5" r="8.75"/><circle cx="1572.0" cy="2447.8" r="8.75"/><circle cx="1704.0" cy="2464.2" r="8.75"/></g>
<path d="M384.0 2271.3 L397.2 2270.1 L410.4 2268.0 L423.6 2265.4 L436.8 2261.7 L450.0 2256.9 L463.2 2251.2 L476.4 2243.3 L489.6 2235.6 L502.8 2231.0 L516.0 2228.0 L529.2 2225.4 L542.4 2222.2 L555.6 2216.7 L568.8 2209.6 L582.0 2204.4 L595.2 2200.1 L608.4 2195.8 L621.6 2190.8 L634.8 2184.2 L648.0 2176.8 L661.2 2168.9 L674.4 2161.6 L687.6 2155.1 L700.8 2149.0 L714.0 2143.4 L727.2 2138.1 L740.4 2133.2 L753.6 2128.7 L766.8 2124.5 L780.0 2120.6 L793.2 2117.0 L806.4 2113.8 L819.6 2111.0 L832.8 2108.1 L846.0 2105.7 L859.2 2104.4 L872.4 2103.9 L885.6 2103.5 L898.8 2103.2 L912.0 2103.1 L925.2 2104.0 L938.4 2106.1 L951.6 2108.7 L964.8 2111.4 L978.0 2114.6 L991.2 2118.6 L1004.4 2123.1 L1017.6 2128.2 L1030.8 2134.5 L1044.0 2141.6 L1110.0 2175.9 L1176.0 2224.5 L1242.0 2274.9 L1308.0 2322.6 L1374.0 2361.4 L1440.0 2395.1 L1506.0 2420.4 L1572.0 2436.5 L1704.0 2455.9" fill="none" stroke="#8F8FFF" stroke-width="8.6" stroke-linejoin="round"/>
<g fill="#8F8FFF"><rect x="375.8" y="2263.1" width="16.5" height="16.5" rx="5"/><rect x="388.9" y="2261.8" width="16.5" height="16.5" rx="5"/><rect x="402.2" y="2259.7" width="16.5" height="16.5" rx="5"/><rect x="415.3" y="2257.1" width="16.5" height="16.5" rx="5"/><rect x="428.6" y="2253.4" width="16.5" height="16.5" rx="5"/><rect x="441.8" y="2248.6" width="16.5" height="16.5" rx="5"/><rect x="455.0" y="2243.0" width="16.5" height="16.5" rx="5"/><rect x="468.2" y="2235.0" width="16.5" height="16.5" rx="5"/><rect x="481.3" y="2227.4" width="16.5" height="16.5" rx="5"/><rect x="494.5" y="2222.8" width="16.5" height="16.5" rx="5"/><rect x="507.8" y="2219.8" width="16.5" height="16.5" rx="5"/><rect x="521.0" y="2217.2" width="16.5" height="16.5" rx="5"/><rect x="534.2" y="2213.9" width="16.5" height="16.5" rx="5"/><rect x="547.3" y="2208.5" width="16.5" height="16.5" rx="5"/><rect x="560.5" y="2201.3" width="16.5" height="16.5" rx="5"/><rect x="573.8" y="2196.1" width="16.5" height="16.5" rx="5"/><rect x="587.0" y="2191.8" width="16.5" height="16.5" rx="5"/><rect x="600.2" y="2187.6" width="16.5" height="16.5" rx="5"/><rect x="613.3" y="2182.5" width="16.5" height="16.5" rx="5"/><rect x="626.5" y="2175.9" width="16.5" height="16.5" rx="5"/><rect x="639.8" y="2168.5" width="16.5" height="16.5" rx="5"/><rect x="652.9" y="2160.6" width="16.5" height="16.5" rx="5"/><rect x="666.2" y="2153.4" width="16.5" height="16.5" rx="5"/><rect x="679.3" y="2146.8" width="16.5" height="16.5" rx="5"/><rect x="692.6" y="2140.8" width="16.5" height="16.5" rx="5"/><rect x="705.8" y="2135.1" width="16.5" height="16.5" rx="5"/><rect x="718.9" y="2129.9" width="16.5" height="16.5" rx="5"/><rect x="732.2" y="2125.0" width="16.5" height="16.5" rx="5"/><rect x="745.3" y="2120.4" width="16.5" height="16.5" rx="5"/><rect x="758.6" y="2116.2" width="16.5" height="16.5" rx="5"/><rect x="771.8" y="2112.4" width="16.5" height="16.5" rx="5"/><rect x="784.9" y="2108.8" width="16.5" height="16.5" rx="5"/><rect x="798.2" y="2105.6" width="16.5" height="16.5" rx="5"/><rect x="811.3" y="2102.7" width="16.5" height="16.5" rx="5"/><rect x="824.6" y="2099.9" width="16.5" height="16.5" rx="5"/><rect x="837.8" y="2097.5" width="16.5" height="16.5" rx="5"/><rect x="850.9" y="2096.1" width="16.5" height="16.5" rx="5"/><rect x="864.2" y="2095.6" width="16.5" height="16.5" rx="5"/><rect x="877.3" y="2095.2" width="16.5" height="16.5" rx="5"/><rect x="890.6" y="2094.9" width="16.5" height="16.5" rx="5"/><rect x="903.8" y="2094.9" width="16.5" height="16.5" rx="5"/><rect x="916.9" y="2095.8" width="16.5" height="16.5" rx="5"/><rect x="930.1" y="2097.8" width="16.5" height="16.5" rx="5"/><rect x="943.4" y="2100.4" width="16.5" height="16.5" rx="5"/><rect x="956.6" y="2103.1" width="16.5" height="16.5" rx="5"/><rect x="969.8" y="2106.4" width="16.5" height="16.5" rx="5"/><rect x="982.9" y="2110.3" width="16.5" height="16.5" rx="5"/><rect x="996.1" y="2114.8" width="16.5" height="16.5" rx="5"/><rect x="1009.4" y="2119.9" width="16.5" height="16.5" rx="5"/><rect x="1022.6" y="2126.3" width="16.5" height="16.5" rx="5"/><rect x="1035.8" y="2133.4" width="16.5" height="16.5" rx="5"/><circle cx="1110.0" cy="2175.9" r="8.75"/><circle cx="1176.0" cy="2224.5" r="8.75"/><circle cx="1242.0" cy="2274.9" r="8.75"/><circle cx="1308.0" cy="2322.6" r="8.75"/><circle cx="1374.0" cy="2361.4" r="8.75"/><circle cx="1440.0" cy="2395.1" r="8.75"/><circle cx="1506.0" cy="2420.4" r="8.75"/><circle cx="1572.0" cy="2436.5" r="8.75"/><circle cx="1704.0" cy="2455.9" r="8.75"/></g>
<path d="M1053 65 V803.5 M1029 803.5 H2160" stroke="#000" stroke-width="6" fill="none"/>
<line x1="1029" y1="68.0" x2="1053" y2="68.0" stroke="#000" stroke-width="6" fill="none"/>
<line x1="1040" y1="129.3" x2="1053" y2="129.3" stroke="#000" stroke-width="6" fill="none"/>
<line x1="1040" y1="190.6" x2="1053" y2="190.6" stroke="#000" stroke-width="6" fill="none"/>
<line x1="1040" y1="251.9" x2="1053" y2="251.9" stroke="#000" stroke-width="6" fill="none"/>
<line x1="1029" y1="313.2" x2="1053" y2="313.2" stroke="#000" stroke-width="6" fill="none"/>
<line x1="1040" y1="374.5" x2="1053" y2="374.5" stroke="#000" stroke-width="6" fill="none"/>
<line x1="1040" y1="435.8" x2="1053" y2="435.8" stroke="#000" stroke-width="6" fill="none"/>
<line x1="1040" y1="497.1" x2="1053" y2="497.1" stroke="#000" stroke-width="6" fill="none"/>
<line x1="1029" y1="558.4" x2="1053" y2="558.4" stroke="#000" stroke-width="6" fill="none"/>
<line x1="1040" y1="619.7" x2="1053" y2="619.7" stroke="#000" stroke-width="6" fill="none"/>
<line x1="1040" y1="681.0" x2="1053" y2="681.0" stroke="#000" stroke-width="6" fill="none"/>
<line x1="1040" y1="742.3" x2="1053" y2="742.3" stroke="#000" stroke-width="6" fill="none"/>
<line x1="1029" y1="803.6" x2="1053" y2="803.6" stroke="#000" stroke-width="6" fill="none"/>
<line x1="1187.0" y1="803.5" x2="1187.0" y2="818" stroke="#000" stroke-width="6" fill="none"/>
<line x1="1325.5" y1="803.5" x2="1325.5" y2="827" stroke="#000" stroke-width="6" fill="none"/>
<line x1="1464.0" y1="803.5" x2="1464.0" y2="818" stroke="#000" stroke-width="6" fill="none"/>
<line x1="1602.5" y1="803.5" x2="1602.5" y2="827" stroke="#000" stroke-width="6" fill="none"/>
<line x1="1741.0" y1="803.5" x2="1741.0" y2="818" stroke="#000" stroke-width="6" fill="none"/>
<line x1="1879.5" y1="803.5" x2="1879.5" y2="827" stroke="#000" stroke-width="6" fill="none"/>
<line x1="2018.0" y1="803.5" x2="2018.0" y2="818" stroke="#000" stroke-width="6" fill="none"/>
<line x1="2156.5" y1="803.5" x2="2156.5" y2="827" stroke="#000" stroke-width="6" fill="none"/>
<text transform="translate(978.02 83.50) scale(1.0379 1)" x="0" y="0" font-family="'Liberation Sans', Arial, sans-serif" font-weight="bold" font-size="51.27">-6</text>
<text transform="translate(978.02 328.70) scale(1.0379 1)" x="0" y="0" font-family="'Liberation Sans', Arial, sans-serif" font-weight="bold" font-size="51.27">-8</text>
<text transform="translate(948.42 573.90) scale(1.0379 1)" x="0" y="0" font-family="'Liberation Sans', Arial, sans-serif" font-weight="bold" font-size="51.27">-10</text>
<text transform="translate(948.42 819.10) scale(1.0379 1)" x="0" y="0" font-family="'Liberation Sans', Arial, sans-serif" font-weight="bold" font-size="51.27">-12</text>
<text transform="translate(1290.15 880.68) scale(0.9612 1)" x="0" y="0" font-family="'Liberation Sans', Arial, sans-serif" font-weight="bold" font-size="53.67">0.2</text>
<text transform="translate(1567.05 880.68) scale(0.9612 1)" x="0" y="0" font-family="'Liberation Sans', Arial, sans-serif" font-weight="bold" font-size="53.67">0.3</text>
<text transform="translate(1843.26 880.68) scale(0.9612 1)" x="0" y="0" font-family="'Liberation Sans', Arial, sans-serif" font-weight="bold" font-size="53.67">0.4</text>
<text transform="translate(2120.84 880.68) scale(0.9612 1)" x="0" y="0" font-family="'Liberation Sans', Arial, sans-serif" font-weight="bold" font-size="53.67">0.5</text>
<line x1="1213" y1="655" x2="1925.6" y2="159.6" stroke="#000" stroke-width="5"/>
<g fill="none" stroke="#000" stroke-width="3.6">
<circle cx="1207.6" cy="662.6" r="10"/>
<circle cx="1222.4" cy="654.0" r="10"/>
<circle cx="1236.9" cy="638.4" r="10"/>
<circle cx="1252.5" cy="627.2" r="10"/>
<circle cx="1269.3" cy="612.7" r="10"/>
<circle cx="1287.1" cy="601.6" r="10"/>
<circle cx="1307.2" cy="588.2" r="10"/>
<circle cx="1328.4" cy="573.7" r="10"/>
<circle cx="1351.9" cy="559.2" r="10"/>
<circle cx="1376.4" cy="544.6" r="10"/>
<circle cx="1404.3" cy="529.0" r="10"/>
<circle cx="1434.5" cy="513.4" r="10"/>
<circle cx="1466.7" cy="497.6" r="10"/>
<circle cx="1502.4" cy="481.1" r="10"/>
<circle cx="1543.0" cy="462.8" r="10"/>
<circle cx="1588.0" cy="446.5" r="10"/>
<circle cx="1638.8" cy="425.9" r="10"/>
<circle cx="1696.0" cy="410.8" r="10"/>
<circle cx="1762.1" cy="388.5" r="10"/>
<circle cx="1837.6" cy="369.9" r="10"/>
<circle cx="1925.5" cy="351.1" r="10"/>
</g>
<line x1="1578" y1="613.5" x2="1662" y2="613.5" stroke="#000" stroke-width="8"/>
<text transform="translate(1800.55 612.15) scale(0.9670 1.0000)" x="-100.60" y="22.05" font-family="'Liberation Sans', Arial, sans-serif" font-weight="normal" font-size="61.69">Orbach</text>
<text transform="translate(1512.65 963.10) scale(0.9373 1.0000)" x="-19.55" y="22.00" font-family="'Liberation Sans', Arial, sans-serif" font-weight="bold" font-size="63.95">T</text>
<text transform="translate(1550.00 940.00) scale(1.3398 1.0000)" x="-11.22" y="12.77" font-family="'Liberation Sans', Arial, sans-serif" font-weight="bold" font-size="38.40">−</text>
<text transform="translate(1576.25 939.55) scale(0.7229 1.0000)" x="-13.62" y="15.85" font-family="'Liberation Sans', Arial, sans-serif" font-weight="bold" font-size="46.08">1</text>
<text transform="translate(1599.60 963.60) scale(0.9481 1.0000)" x="-8.40" y="21.29" font-family="'Liberation Sans', Arial, sans-serif" font-weight="bold" font-size="60.43">/</text>
<text transform="translate(1633.45 963.10) scale(0.9416 1.0000)" x="-24.94" y="22.00" font-family="'Liberation Sans', Arial, sans-serif" font-weight="bold" font-size="63.95">K</text>
<text transform="translate(1675.75 940.00) scale(1.3242 1.0000)" x="-11.22" y="12.77" font-family="'Liberation Sans', Arial, sans-serif" font-weight="bold" font-size="38.40">−</text>
<text transform="translate(1702.85 939.55) scale(0.7602 1.0000)" x="-13.62" y="15.85" font-family="'Liberation Sans', Arial, sans-serif" font-weight="bold" font-size="46.08">1</text>
<text transform="translate(885.75 502.10) rotate(-90) scale(0.9555 1)" x="-31.24" y="25.25" font-family="'Liberation Sans', Arial, sans-serif" font-weight="bold" font-size="69.69">ln</text>
<text transform="translate(894.30 454.10) rotate(-90) scale(0.9785 1)" x="-14.92" y="16.68" font-family="'Liberation Serif', 'Times New Roman', serif" font-weight="normal" font-size="74.24">τ</text>
<text transform="translate(891.80 406.50) rotate(-90) scale(0.8330 1)" x="-13.80" y="18.69" font-family="'Liberation Sans', Arial, sans-serif" font-weight="bold" font-size="72.31">(</text>
<text transform="translate(890.85 378.25) rotate(-90) scale(1.0158 1)" x="-19.02" y="18.28" font-family="'Liberation Sans', Arial, sans-serif" font-weight="bold" font-size="69.12">s</text>
<text transform="translate(891.80 344.55) rotate(-90) scale(0.7497 1)" x="-10.27" y="18.69" font-family="'Liberation Sans', Arial, sans-serif" font-weight="bold" font-size="72.31">)</text>
<g>
<text transform="translate(105.90 1037.70) rotate(-90) scale(1.0630 1)" x="-16.58" y="9.30" font-family="'Liberation Serif', 'Times New Roman', serif" font-weight="normal" font-size="75.61">χ</text>
<text transform="translate(109.80 990.60) rotate(-90) scale(0.9500 1)" x="-24.58" y="20.30" font-family="'Liberation Sans', Arial, sans-serif" font-weight="bold" font-size="59.01">M</text>
<text transform="translate(66.50 956.70) rotate(-90) scale(1.0568 1)" x="-7.67" y="36.12" font-family="'Liberation Sans', Arial, sans-serif" font-weight="bold" font-size="64.13">'</text>
<text transform="translate(85.40 937.85) rotate(-90) scale(0.9384 1)" x="-10.18" y="26.18" font-family="'Liberation Sans', Arial, sans-serif" font-weight="normal" font-size="73.26">/</text>
<text transform="translate(92.25 876.30) rotate(-90) scale(0.9899 1)" x="-50.45" y="18.76" font-family="'Liberation Sans', Arial, sans-serif" font-weight="bold" font-size="70.94">cm</text>
<text transform="translate(59.35 805.40) rotate(-90) scale(0.8156 1)" x="-15.27" y="19.32" font-family="'Liberation Sans', Arial, sans-serif" font-weight="bold" font-size="56.24">3</text>
<text transform="translate(85.10 727.60) rotate(-90) scale(0.9522 1)" x="-64.22" y="25.89" font-family="'Liberation Sans', Arial, sans-serif" font-weight="bold" font-size="72.44">mol</text>
<text transform="translate(65.90 635.30) rotate(-90) scale(1.3254 1)" x="-13.89" y="15.81" font-family="'Liberation Sans', Arial, sans-serif" font-weight="bold" font-size="47.54">−</text>
<text transform="translate(59.35 605.20) rotate(-90) scale(0.6151 1)" x="-17.15" y="19.95" font-family="'Liberation Sans', Arial, sans-serif" font-weight="bold" font-size="58.00">1</text>
</g>
<g>
<text transform="translate(176.25 2245.65) rotate(-90) scale(1.0021 1)" x="-16.74" y="9.40" font-family="'Liberation Serif', 'Times New Roman', serif" font-weight="normal" font-size="76.35">χ</text>
<text transform="translate(180.80 2196.45) rotate(-90) scale(0.9256 1)" x="-25.55" y="21.10" font-family="'Liberation Sans', Arial, sans-serif" font-weight="bold" font-size="61.34">M</text>
<text transform="translate(139.60 2153.85) rotate(-90) scale(0.8896 1)" x="-17.67" y="41.99" font-family="'Liberation Sans', Arial, sans-serif" font-weight="bold" font-size="74.55">&quot;</text>
<text transform="translate(157.10 2127.20) rotate(-90) scale(0.9863 1)" x="-10.14" y="26.09" font-family="'Liberation Sans', Arial, sans-serif" font-weight="normal" font-size="72.99">/</text>
<text transform="translate(163.10 2064.25) rotate(-90) scale(0.9643 1)" x="-52.40" y="19.48" font-family="'Liberation Sans', Arial, sans-serif" font-weight="bold" font-size="73.68">cm</text>
<text transform="translate(130.10 1993.15) rotate(-90) scale(0.9238 1)" x="-15.08" y="19.08" font-family="'Liberation Sans', Arial, sans-serif" font-weight="bold" font-size="55.53">3</text>
<text transform="translate(156.35 1915.65) rotate(-90) scale(0.9378 1)" x="-64.34" y="25.94" font-family="'Liberation Sans', Arial, sans-serif" font-weight="bold" font-size="72.58">mol</text>
<text transform="translate(135.95 1825.80) rotate(-90) scale(1.1208 1)" x="-17.37" y="19.76" font-family="'Liberation Sans', Arial, sans-serif" font-weight="bold" font-size="59.43">−</text>
<text transform="translate(130.40 1795.35) rotate(-90) scale(0.6764 1)" x="-17.19" y="20.00" font-family="'Liberation Sans', Arial, sans-serif" font-weight="bold" font-size="58.14">1</text>
</g>
<line x1="1807" y1="1613.5" x2="1907" y2="1613.5" stroke="#F00468" stroke-width="9"/>
<circle cx="1858.4" cy="1613.5" r="8.6" fill="#F00468"/>
<line x1="1807" y1="1716.0" x2="1907" y2="1716.0" stroke="#8B00A0" stroke-width="9"/>
<circle cx="1858.4" cy="1716.0" r="8.6" fill="#8B00A0"/>
<line x1="1807" y1="1837.0" x2="1907" y2="1837.0" stroke="#0000C8" stroke-width="9"/>
<circle cx="1858.4" cy="1837.0" r="8.6" fill="#0000C8"/>
<line x1="1807" y1="1940.2" x2="1907" y2="1940.2" stroke="#BE0000" stroke-width="9"/>
<circle cx="1858.4" cy="1940.2" r="8.6" fill="#BE0000"/>
<line x1="1807" y1="2043.4" x2="1907" y2="2043.4" stroke="#00BF78" stroke-width="9"/>
<circle cx="1858.4" cy="2043.4" r="8.6" fill="#00BF78"/>
<line x1="1807" y1="2146.3" x2="1907" y2="2146.3" stroke="#FF0000" stroke-width="9"/>
<circle cx="1858.4" cy="2146.3" r="8.6" fill="#FF0000"/>
<line x1="1807" y1="2249.0" x2="1907" y2="2249.0" stroke="#008200" stroke-width="9"/>
<circle cx="1858.4" cy="2249.0" r="8.6" fill="#008200"/>
<line x1="1807" y1="2351.9" x2="1907" y2="2351.9" stroke="#FF4040" stroke-width="9"/>
<circle cx="1858.4" cy="2351.9" r="8.6" fill="#FF4040"/>
<line x1="1807" y1="2456.0" x2="1907" y2="2456.0" stroke="#8F8FFF" stroke-width="9"/>
<circle cx="1858.4" cy="2456.0" r="8.6" fill="#8F8FFF"/>
<text transform="translate(1957.77 1636.76) scale(0.9750 1)" x="0" y="0" font-family="'Liberation Sans', Arial, sans-serif" font-weight="normal" font-size="75.42">60 Hz</text>
<text transform="translate(1957.77 1739.26) scale(0.9750 1)" x="0" y="0" font-family="'Liberation Sans', Arial, sans-serif" font-weight="normal" font-size="75.42">200 Hz</text>
<text transform="translate(1957.77 1860.26) scale(0.9750 1)" x="0" y="0" font-family="'Liberation Sans', Arial, sans-serif" font-weight="normal" font-size="75.42">500 Hz</text>
<text transform="translate(1957.77 1963.46) scale(0.9750 1)" x="0" y="0" font-family="'Liberation Sans', Arial, sans-serif" font-weight="normal" font-size="75.42">800 Hz</text>
<text transform="translate(1957.77 2066.66) scale(0.9750 1)" x="0" y="0" font-family="'Liberation Sans', Arial, sans-serif" font-weight="normal" font-size="75.42">1000 Hz</text>
<text transform="translate(1957.77 2169.56) scale(0.9750 1)" x="0" y="0" font-family="'Liberation Sans', Arial, sans-serif" font-weight="normal" font-size="75.42">2000 Hz</text>
<text transform="translate(1957.77 2272.26) scale(0.9750 1)" x="0" y="0" font-family="'Liberation Sans', Arial, sans-serif" font-weight="normal" font-size="75.42">4000 Hz</text>
<text transform="translate(1957.77 2375.16) scale(0.9750 1)" x="0" y="0" font-family="'Liberation Sans', Arial, sans-serif" font-weight="normal" font-size="75.42">6000 Hz</text>
<text transform="translate(1957.77 2479.26) scale(0.9750 1)" x="0" y="0" font-family="'Liberation Sans', Arial, sans-serif" font-weight="normal" font-size="75.42">10,000 Hz</text>
</svg></body></html>
